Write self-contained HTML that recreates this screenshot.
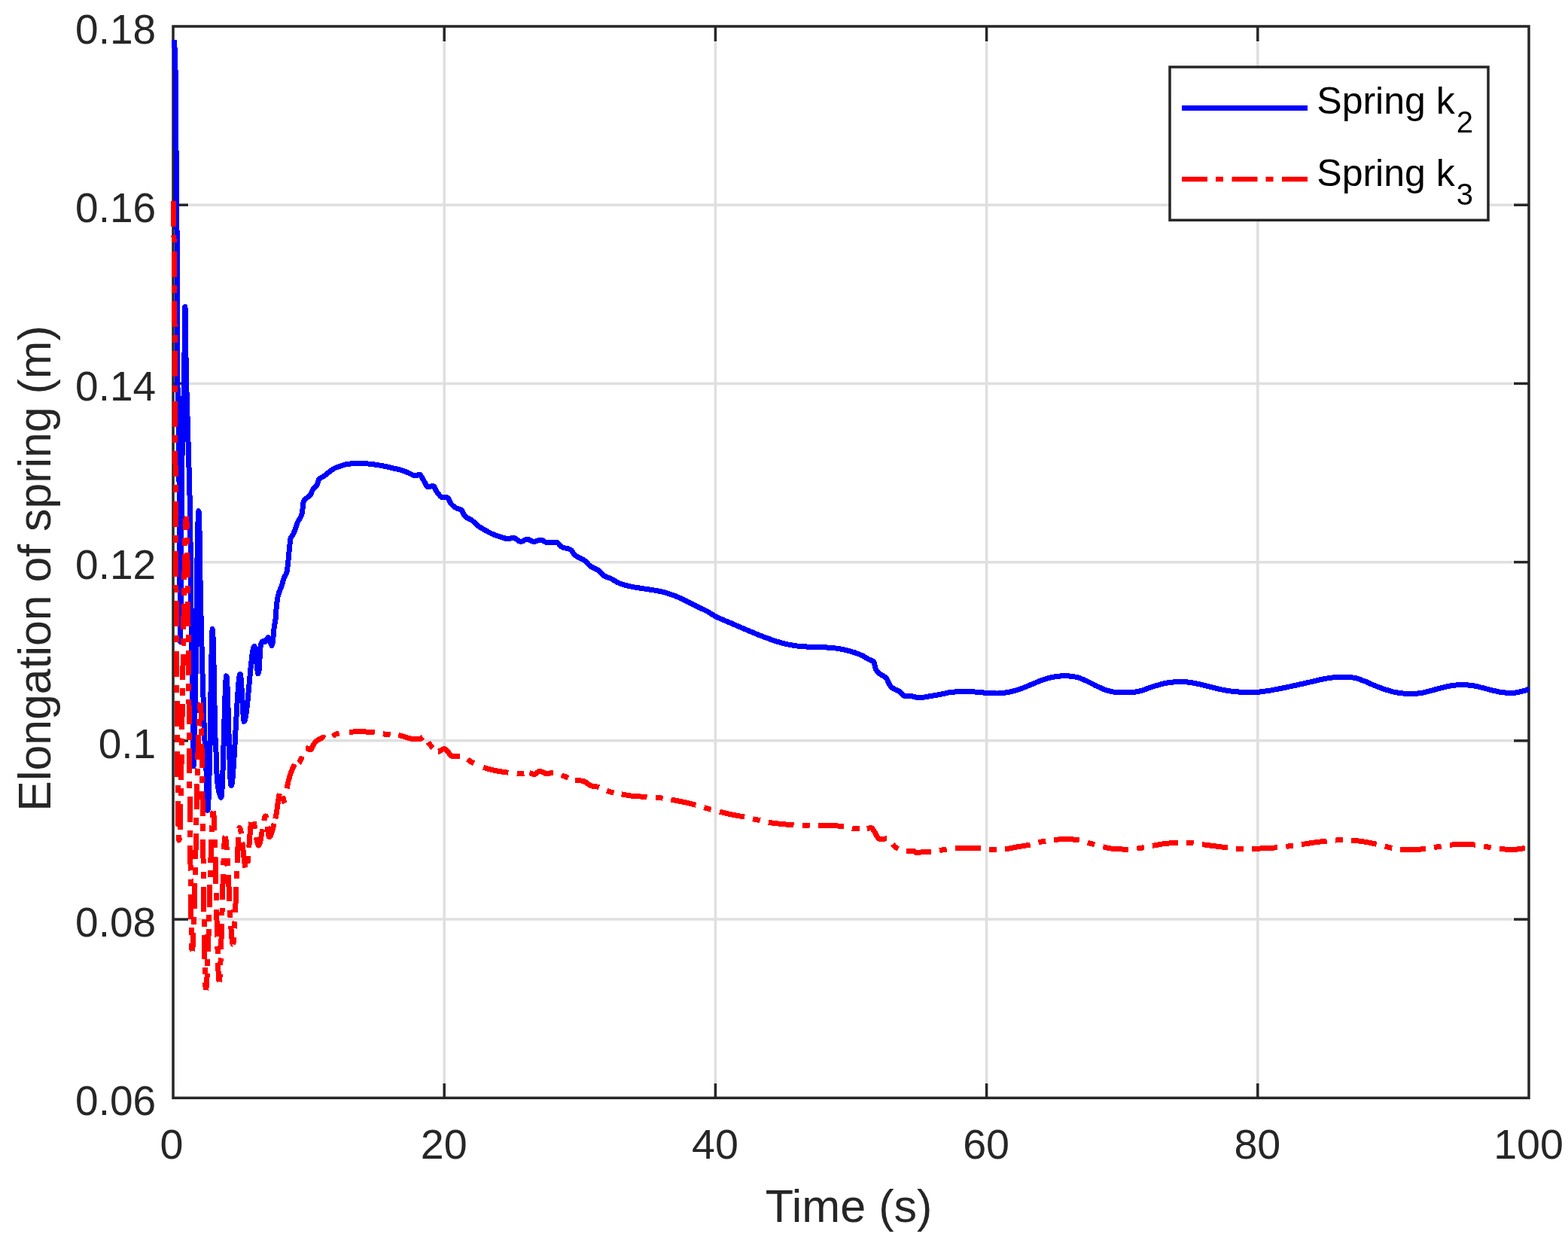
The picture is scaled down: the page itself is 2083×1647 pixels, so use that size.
<!DOCTYPE html>
<html lang="en"><head><meta charset="utf-8"><title>Elongation of spring</title>
<style>
html,body{margin:0;padding:0;background:#fff;}
body{width:2083px;height:1647px;overflow:hidden;}
svg{display:block;}
text{font-family:"Liberation Sans",sans-serif;}
.tk{font-size:55.6px;fill:#262626;}
.lb{font-size:61.1px;fill:#262626;}
.lg{font-size:50px;fill:#000;}
.sb{font-size:40px;fill:#000;}
</style></head><body>
<svg width="2083" height="1647" viewBox="0 0 2083 1647">
<rect x="0" y="0" width="2083" height="1647" fill="#ffffff"/>

<g stroke="#dfdfdf" stroke-width="3.5" fill="none">
<line x1="590.20" y1="55.40" x2="590.20" y2="1437.90"/>
<line x1="950.40" y1="55.40" x2="950.40" y2="1437.90"/>
<line x1="1310.60" y1="55.40" x2="1310.60" y2="1437.90"/>
<line x1="1670.80" y1="55.40" x2="1670.80" y2="1437.90"/>
<line x1="251.00" y1="1221.08" x2="2010.00" y2="1221.08"/>
<line x1="251.00" y1="983.87" x2="2010.00" y2="983.87"/>
<line x1="251.00" y1="746.65" x2="2010.00" y2="746.65"/>
<line x1="251.00" y1="509.43" x2="2010.00" y2="509.43"/>
<line x1="251.00" y1="272.22" x2="2010.00" y2="272.22"/>
</g>
<g stroke="#262626" stroke-width="3.5" fill="none" stroke-linecap="butt">
<rect x="230.0" y="35.0" width="1801.0" height="1423.3"/>
<line x1="590.20" y1="1458.30" x2="590.20" y2="1438.85"/>
<line x1="590.20" y1="35.00" x2="590.20" y2="55.00"/>
<line x1="950.40" y1="1458.30" x2="950.40" y2="1438.85"/>
<line x1="950.40" y1="35.00" x2="950.40" y2="55.00"/>
<line x1="1310.60" y1="1458.30" x2="1310.60" y2="1438.85"/>
<line x1="1310.60" y1="35.00" x2="1310.60" y2="55.00"/>
<line x1="1670.80" y1="1458.30" x2="1670.80" y2="1438.85"/>
<line x1="1670.80" y1="35.00" x2="1670.80" y2="55.00"/>
<line x1="230.00" y1="1221.08" x2="250.00" y2="1221.08"/>
<line x1="2031.00" y1="1221.08" x2="2011.00" y2="1221.08"/>
<line x1="230.00" y1="983.87" x2="250.00" y2="983.87"/>
<line x1="2031.00" y1="983.87" x2="2011.00" y2="983.87"/>
<line x1="230.00" y1="746.65" x2="250.00" y2="746.65"/>
<line x1="2031.00" y1="746.65" x2="2011.00" y2="746.65"/>
<line x1="230.00" y1="509.43" x2="250.00" y2="509.43"/>
<line x1="2031.00" y1="509.43" x2="2011.00" y2="509.43"/>
<line x1="230.00" y1="272.22" x2="250.00" y2="272.22"/>
<line x1="2031.00" y1="272.22" x2="2011.00" y2="272.22"/>
</g>
<path d="M231.00,53.00 L231.10,54.83 L231.20,56.56 L231.32,58.24 L231.48,59.90 L231.68,61.43 L231.92,63.01 L232.12,64.59 L232.28,66.31 L232.40,68.00 L232.48,69.58 L232.54,71.16 L232.60,73.05 L232.66,75.23 L232.70,76.84 L232.74,78.56 L232.78,80.38 L232.82,82.30 L232.86,84.32 L232.90,86.42 L232.94,88.60 L232.98,90.85 L233.02,93.22 L233.06,96.00 L233.08,97.54 L233.10,99.19 L233.12,100.93 L233.14,102.75 L233.16,104.65 L233.18,106.63 L233.20,108.68 L233.22,110.79 L233.24,112.95 L233.26,115.17 L233.28,117.44 L233.30,119.74 L233.32,122.07 L233.34,124.44 L233.36,126.82 L233.38,129.22 L233.40,131.63 L233.42,134.05 L233.44,136.46 L233.46,138.87 L233.48,141.26 L233.50,143.63 L233.52,145.98 L233.54,148.30 L233.56,150.57 L233.58,152.81 L233.60,155.00 L233.62,157.16 L233.64,159.32 L233.66,161.48 L233.68,163.64 L233.70,165.80 L233.72,167.95 L233.74,170.11 L233.76,172.27 L233.78,174.43 L233.80,176.58 L233.82,178.75 L233.84,180.91 L233.86,183.07 L233.88,185.24 L233.90,187.41 L233.92,189.58 L233.94,191.75 L233.96,193.93 L233.98,196.11 L234.00,198.29 L234.02,200.48 L234.04,202.67 L234.06,204.87 L234.08,207.07 L234.10,209.28 L234.12,211.49 L234.14,213.71 L234.16,215.94 L234.18,218.17 L234.20,220.41 L234.22,222.65 L234.24,224.90 L234.26,227.16 L234.28,229.43 L234.30,231.71 L234.32,233.99 L234.34,236.28 L234.36,238.58 L234.38,240.89 L234.40,243.21 L234.42,245.54 L234.44,247.88 L234.46,250.23 L234.48,252.59 L234.50,254.97 L234.52,257.35 L234.54,259.74 L234.56,262.15 L234.58,264.57 L234.60,267.00 L234.62,269.38 L234.64,271.67 L234.66,273.86 L234.68,275.97 L234.70,278.00 L234.72,279.97 L234.74,281.88 L234.76,283.74 L234.78,285.55 L234.80,287.34 L234.82,289.10 L234.84,290.84 L234.86,292.57 L234.88,294.31 L234.90,296.06 L234.92,297.82 L234.94,299.61 L234.96,301.43 L234.98,303.29 L235.00,305.21 L235.02,307.19 L235.04,309.23 L235.06,311.35 L235.08,313.56 L235.10,315.85 L235.12,318.25 L235.14,320.76 L235.16,323.39 L235.18,326.15 L235.20,329.04 L235.22,332.07 L235.24,335.26 L235.26,338.60 L235.28,342.12 L235.30,345.81 L235.32,349.69 L235.34,353.76 L235.36,358.03 L235.38,362.52 L235.40,367.22 L235.42,372.16 L235.44,377.32 L235.46,383.75 L235.48,396.63 L235.50,414.59 L235.52,435.15 L235.54,455.86 L235.56,474.21 L235.58,487.75 L235.60,494.00 L235.62,495.73 L235.64,497.36 L235.66,498.91 L235.70,501.76 L235.74,504.29 L235.78,506.54 L235.82,508.52 L235.86,510.27 L235.90,511.80 L235.96,513.76 L236.02,515.37 L236.10,517.13 L236.20,518.99 L236.30,520.82 L236.38,522.52 L236.44,524.07 L236.50,525.94 L236.56,528.22 L236.60,530.00 L236.64,531.95 L236.68,533.98 L236.72,536.11 L236.76,538.32 L236.80,540.61 L236.84,542.98 L236.88,545.42 L236.92,547.95 L236.96,550.54 L237.00,553.21 L237.04,555.94 L237.08,558.74 L237.12,561.60 L237.16,564.53 L237.20,567.51 L237.22,569.02 L237.24,570.54 L237.26,572.08 L237.28,573.63 L237.30,575.20 L237.32,576.78 L237.34,578.37 L237.36,579.97 L237.38,581.58 L237.40,583.20 L237.42,584.84 L237.44,586.48 L237.46,588.14 L237.48,589.81 L237.50,591.48 L237.52,593.17 L237.54,594.86 L237.56,596.57 L237.58,598.28 L237.60,600.00 L237.62,601.74 L237.64,603.52 L237.66,605.32 L237.68,607.16 L237.70,609.03 L237.72,610.93 L237.74,612.86 L237.76,614.81 L237.78,616.80 L237.80,618.81 L237.82,620.84 L237.84,622.90 L237.86,624.99 L237.88,627.10 L237.90,629.23 L237.92,631.39 L237.94,633.56 L237.96,635.76 L237.98,637.98 L238.00,640.21 L238.02,642.47 L238.04,644.74 L238.06,647.02 L238.08,649.33 L238.10,651.65 L238.12,653.98 L238.14,656.33 L238.16,658.69 L238.18,661.06 L238.20,663.44 L238.22,665.83 L238.24,668.24 L238.26,670.65 L238.28,673.07 L238.30,675.50 L238.32,677.93 L238.34,680.37 L238.36,682.81 L238.38,685.26 L238.40,687.71 L238.42,690.17 L238.44,692.63 L238.46,695.08 L238.48,697.54 L238.50,700.00 L238.52,702.52 L238.54,705.15 L238.56,707.90 L238.58,710.75 L238.60,713.70 L238.62,716.75 L238.64,719.88 L238.66,723.09 L238.68,726.38 L238.70,729.73 L238.72,733.15 L238.74,736.62 L238.76,740.15 L238.78,743.71 L238.80,747.32 L238.82,750.96 L238.84,754.62 L238.86,758.30 L238.88,762.00 L238.90,765.70 L238.92,769.41 L238.94,773.11 L238.96,776.80 L238.98,780.47 L239.00,784.12 L239.02,787.73 L239.04,791.32 L239.06,794.86 L239.08,798.35 L239.10,801.79 L239.12,805.17 L239.14,808.49 L239.16,811.73 L239.18,814.89 L239.20,817.97 L239.22,820.96 L239.24,823.85 L239.26,826.64 L239.28,829.32 L239.30,831.89 L239.32,834.33 L239.34,836.65 L239.36,838.83 L239.38,840.88 L239.40,842.77 L239.42,844.52 L239.44,846.11 L239.48,848.79 L239.52,850.76 L239.58,852.29 L239.72,850.27 L239.76,848.67 L239.80,846.65 L239.84,844.25 L239.88,841.47 L239.90,839.95 L239.92,838.35 L239.94,836.67 L239.96,834.90 L239.98,833.06 L240.00,831.14 L240.02,829.16 L240.04,827.10 L240.06,824.98 L240.08,822.79 L240.10,820.55 L240.12,818.24 L240.14,815.88 L240.16,813.46 L240.18,811.00 L240.20,808.49 L240.22,805.93 L240.24,803.33 L240.26,800.69 L240.28,798.01 L240.30,795.29 L240.32,792.55 L240.34,789.77 L240.36,786.97 L240.38,784.14 L240.40,781.29 L240.42,778.42 L240.44,775.53 L240.46,772.63 L240.48,769.72 L240.50,766.80 L240.52,763.88 L240.54,760.95 L240.56,758.01 L240.58,755.08 L240.60,752.16 L240.62,749.24 L240.64,746.33 L240.66,743.43 L240.68,740.55 L240.70,737.68 L240.72,734.84 L240.74,732.01 L240.76,729.22 L240.78,726.45 L240.80,723.70 L240.82,721.00 L240.84,718.32 L240.86,715.69 L240.88,713.10 L240.90,710.55 L240.92,708.04 L240.94,705.59 L240.96,703.18 L240.98,700.83 L241.00,698.54 L241.02,696.30 L241.04,694.13 L241.06,692.02 L241.08,689.97 L241.10,688.00 L241.12,686.06 L241.14,684.11 L241.16,682.15 L241.18,680.18 L241.20,678.21 L241.22,676.23 L241.24,674.25 L241.26,672.27 L241.28,670.29 L241.30,668.30 L241.32,666.32 L241.34,664.34 L241.36,662.36 L241.38,660.38 L241.40,658.41 L241.42,656.44 L241.44,654.48 L241.46,652.53 L241.48,650.58 L241.50,648.65 L241.52,646.72 L241.54,644.81 L241.56,642.91 L241.58,641.02 L241.60,639.15 L241.62,637.29 L241.64,635.45 L241.66,633.63 L241.68,631.83 L241.70,630.04 L241.72,628.28 L241.74,626.53 L241.76,624.81 L241.78,623.12 L241.80,621.45 L241.82,619.80 L241.84,618.18 L241.86,616.59 L241.88,615.02 L241.90,613.49 L241.92,611.99 L241.96,609.08 L242.00,606.30 L242.04,603.67 L242.08,601.18 L242.12,598.85 L242.16,596.58 L242.20,594.38 L242.24,592.24 L242.28,590.15 L242.32,588.12 L242.36,586.13 L242.40,584.20 L242.44,582.32 L242.48,580.49 L242.52,578.70 L242.56,576.95 L242.60,575.25 L242.64,573.58 L242.68,571.95 L242.72,570.36 L242.76,568.79 L242.80,567.26 L242.86,565.03 L242.92,562.85 L242.98,560.72 L243.04,558.64 L243.10,556.60 L243.16,554.60 L243.22,552.63 L243.28,550.67 L243.34,548.73 L243.40,546.80 L243.46,544.87 L243.52,542.94 L243.58,540.99 L243.64,539.03 L243.70,537.04 L243.76,535.03 L243.82,532.98 L243.88,530.88 L243.94,528.73 L244.00,526.53 L244.04,525.03 L244.08,523.50 L244.12,521.93 L244.16,520.33 L244.20,518.70 L244.24,517.03 L244.28,515.32 L244.32,513.57 L244.36,511.78 L244.40,509.94 L244.44,508.05 L244.48,506.12 L244.52,504.13 L244.56,502.09 L244.60,500.00 L244.64,497.75 L244.68,495.24 L244.72,492.51 L244.76,489.57 L244.78,488.03 L244.80,486.44 L244.82,484.81 L244.84,483.15 L244.86,481.44 L244.88,479.70 L244.90,477.93 L244.92,476.14 L244.94,474.31 L244.96,472.46 L244.98,470.59 L245.00,468.70 L245.02,466.80 L245.04,464.88 L245.06,462.95 L245.08,461.02 L245.10,459.07 L245.12,457.13 L245.14,455.18 L245.16,453.24 L245.18,451.30 L245.20,449.37 L245.22,447.44 L245.24,445.53 L245.26,443.64 L245.28,441.76 L245.30,439.90 L245.32,438.07 L245.34,436.26 L245.36,434.48 L245.38,432.73 L245.40,431.01 L245.42,429.33 L245.44,427.69 L245.46,426.09 L245.48,424.53 L245.50,423.01 L245.54,420.14 L245.58,417.47 L245.62,415.05 L245.66,412.88 L245.70,410.98 L245.74,409.39 L245.80,407.60 L246.08,409.31 L246.14,411.45 L246.18,413.17 L246.22,415.09 L246.26,417.20 L246.30,419.50 L246.34,421.97 L246.38,424.59 L246.42,427.36 L246.46,430.24 L246.50,433.24 L246.52,434.78 L246.54,436.34 L246.56,437.92 L246.58,439.52 L246.60,441.14 L246.62,442.78 L246.64,444.42 L246.66,446.08 L246.68,447.76 L246.70,449.43 L246.72,451.12 L246.74,452.81 L246.76,454.51 L246.78,456.20 L246.80,457.90 L246.82,459.59 L246.84,461.28 L246.86,462.97 L246.88,464.65 L246.90,466.32 L246.92,467.97 L246.94,469.62 L246.96,471.25 L246.98,472.87 L247.00,474.47 L247.02,476.04 L247.04,477.60 L247.06,479.14 L247.08,480.65 L247.12,483.58 L247.16,486.40 L247.20,489.09 L247.24,491.62 L247.28,493.99 L247.32,496.19 L247.36,498.20 L247.40,500.00 L247.44,501.66 L247.48,503.27 L247.52,504.82 L247.58,507.04 L247.64,509.17 L247.70,511.21 L247.76,513.17 L247.82,515.08 L247.88,516.95 L247.94,518.78 L248.00,520.60 L248.06,522.42 L248.12,524.26 L248.18,526.13 L248.24,528.03 L248.30,530.00 L248.36,531.99 L248.42,533.98 L248.48,535.96 L248.54,537.93 L248.60,539.89 L248.66,541.85 L248.72,543.80 L248.78,545.75 L248.84,547.69 L248.90,549.63 L248.96,551.57 L249.02,553.51 L249.08,555.45 L249.14,557.39 L249.20,559.34 L249.26,561.28 L249.32,563.23 L249.38,565.19 L249.44,567.15 L249.50,569.12 L249.56,571.09 L249.62,573.07 L249.68,575.07 L249.74,577.07 L249.80,579.08 L249.86,581.10 L249.92,583.14 L249.98,585.19 L250.04,587.26 L250.10,589.34 L250.16,591.43 L250.22,593.55 L250.28,595.68 L250.34,597.83 L250.40,600.00 L250.46,602.16 L250.52,604.30 L250.58,606.40 L250.64,608.49 L250.70,610.56 L250.76,612.61 L250.82,614.64 L250.88,616.68 L250.94,618.70 L251.00,620.73 L251.06,622.76 L251.12,624.80 L251.18,626.85 L251.24,628.91 L251.30,631.00 L251.36,633.10 L251.42,635.23 L251.48,637.40 L251.54,639.59 L251.60,641.82 L251.64,643.34 L251.68,644.87 L251.72,646.42 L251.76,647.99 L251.80,649.59 L251.84,651.21 L251.88,652.85 L251.92,654.52 L251.96,656.22 L252.00,657.95 L252.04,659.70 L252.08,661.49 L252.12,663.31 L252.16,665.16 L252.20,667.04 L252.24,668.96 L252.28,670.92 L252.32,672.91 L252.36,674.94 L252.40,677.01 L252.44,679.12 L252.48,681.28 L252.52,683.47 L252.56,685.71 L252.60,688.00 L252.64,690.41 L252.68,693.03 L252.72,695.84 L252.76,698.82 L252.78,700.37 L252.80,701.95 L252.82,703.58 L252.84,705.24 L252.86,706.93 L252.88,708.65 L252.90,710.40 L252.92,712.18 L252.94,713.99 L252.96,715.81 L252.98,717.66 L253.00,719.53 L253.02,721.42 L253.04,723.33 L253.06,725.25 L253.08,727.18 L253.10,729.12 L253.12,731.07 L253.14,733.03 L253.16,735.00 L253.18,736.97 L253.20,738.94 L253.22,740.91 L253.24,742.88 L253.26,744.84 L253.28,746.80 L253.30,748.76 L253.32,750.70 L253.34,752.64 L253.36,754.56 L253.38,756.47 L253.40,758.36 L253.42,760.23 L253.44,762.09 L253.46,763.92 L253.48,765.73 L253.50,767.52 L253.52,769.27 L253.54,771.00 L253.56,772.70 L253.58,774.37 L253.60,776.00 L253.62,777.61 L253.64,779.22 L253.66,780.82 L253.68,782.42 L253.70,784.02 L253.72,785.61 L253.74,787.19 L253.76,788.77 L253.78,790.35 L253.80,791.92 L253.82,793.49 L253.84,795.05 L253.86,796.61 L253.88,798.16 L253.90,799.72 L253.92,801.26 L253.94,802.81 L253.96,804.34 L253.98,805.88 L254.00,807.41 L254.02,808.94 L254.04,810.46 L254.06,811.98 L254.08,813.50 L254.10,815.01 L254.12,816.52 L254.14,818.03 L254.16,819.53 L254.20,822.52 L254.24,825.50 L254.28,828.47 L254.32,831.43 L254.36,834.37 L254.40,837.30 L254.44,840.22 L254.48,843.13 L254.52,846.03 L254.56,848.92 L254.60,851.80 L254.64,854.67 L254.68,857.53 L254.72,860.38 L254.76,863.23 L254.80,866.06 L254.84,868.89 L254.88,871.71 L254.92,874.53 L254.96,877.33 L255.00,880.14 L255.04,882.93 L255.08,885.72 L255.12,888.51 L255.16,891.29 L255.20,894.07 L255.24,896.84 L255.28,899.62 L255.32,902.40 L255.36,905.26 L255.40,908.22 L255.42,909.73 L255.44,911.26 L255.46,912.81 L255.48,914.38 L255.50,915.96 L255.52,917.57 L255.54,919.18 L255.56,920.82 L255.58,922.46 L255.60,924.12 L255.62,925.79 L255.64,927.47 L255.66,929.16 L255.68,930.86 L255.70,932.57 L255.72,934.29 L255.74,936.01 L255.76,937.74 L255.78,939.47 L255.80,941.21 L255.82,942.95 L255.84,944.69 L255.86,946.43 L255.88,948.17 L255.90,949.92 L255.92,951.66 L255.94,953.39 L255.96,955.13 L255.98,956.85 L256.00,958.58 L256.02,960.30 L256.04,962.01 L256.06,963.71 L256.08,965.40 L256.10,967.08 L256.12,968.76 L256.14,970.42 L256.16,972.07 L256.18,973.70 L256.20,975.32 L256.22,976.92 L256.24,978.51 L256.26,980.08 L256.28,981.64 L256.30,983.17 L256.32,984.68 L256.36,987.65 L256.40,990.52 L256.44,993.30 L256.48,995.97 L256.52,998.53 L256.56,1000.97 L256.60,1003.28 L256.64,1005.46 L256.68,1007.49 L256.72,1009.38 L256.76,1011.11 L256.80,1012.68 L256.86,1014.71 L256.92,1016.33 L257.02,1018.06 L257.32,1016.36 L257.40,1014.63 L257.46,1013.06 L257.52,1011.27 L257.58,1009.29 L257.64,1007.13 L257.68,1005.61 L257.72,1004.03 L257.76,1002.39 L257.80,1000.70 L257.84,998.98 L257.88,997.21 L257.92,995.42 L257.96,993.61 L258.00,991.78 L258.04,989.94 L258.08,988.10 L258.12,986.26 L258.16,984.42 L258.20,982.61 L258.24,980.82 L258.28,979.05 L258.32,977.33 L258.36,975.64 L258.40,974.00 L258.44,972.38 L258.48,970.74 L258.52,969.09 L258.56,967.43 L258.60,965.75 L258.64,964.05 L258.68,962.34 L258.72,960.62 L258.76,958.87 L258.80,957.12 L258.84,955.34 L258.88,953.55 L258.92,951.74 L258.96,949.92 L259.00,948.08 L259.04,946.22 L259.08,944.34 L259.12,942.45 L259.16,940.54 L259.20,938.61 L259.24,936.67 L259.28,934.70 L259.32,932.72 L259.36,930.72 L259.40,928.70 L259.44,926.66 L259.48,924.61 L259.52,922.53 L259.56,920.44 L259.60,918.32 L259.64,916.19 L259.68,914.03 L259.72,911.86 L259.76,909.67 L259.80,907.45 L259.84,905.22 L259.88,902.96 L259.92,900.69 L259.96,898.39 L260.00,896.07 L260.04,893.73 L260.08,891.37 L260.12,888.99 L260.16,886.59 L260.20,884.16 L260.24,881.71 L260.28,879.24 L260.32,876.74 L260.36,874.17 L260.40,871.51 L260.44,868.79 L260.48,865.99 L260.52,863.12 L260.56,860.20 L260.60,857.21 L260.62,855.70 L260.64,854.17 L260.66,852.64 L260.68,851.09 L260.70,849.53 L260.72,847.95 L260.74,846.37 L260.76,844.78 L260.78,843.18 L260.80,841.57 L260.82,839.95 L260.84,838.33 L260.86,836.69 L260.88,835.05 L260.90,833.41 L260.92,831.76 L260.94,830.10 L260.96,828.44 L260.98,826.77 L261.00,825.11 L261.02,823.43 L261.04,821.76 L261.06,820.08 L261.08,818.41 L261.10,816.73 L261.12,815.05 L261.14,813.37 L261.16,811.69 L261.18,810.02 L261.20,808.34 L261.22,806.67 L261.24,805.00 L261.26,803.33 L261.28,801.67 L261.30,800.01 L261.32,798.36 L261.34,796.71 L261.36,795.07 L261.38,793.43 L261.40,791.80 L261.42,790.18 L261.44,788.56 L261.46,786.96 L261.48,785.36 L261.50,783.77 L261.52,782.20 L261.54,780.63 L261.56,779.08 L261.58,777.53 L261.60,776.00 L261.62,774.46 L261.64,772.89 L261.66,771.28 L261.68,769.66 L261.70,768.01 L261.72,766.33 L261.74,764.64 L261.76,762.93 L261.78,761.21 L261.80,759.48 L261.82,757.73 L261.84,755.98 L261.86,754.22 L261.88,752.46 L261.90,750.69 L261.92,748.93 L261.94,747.18 L261.96,745.43 L261.98,743.69 L262.00,741.96 L262.02,740.24 L262.04,738.54 L262.06,736.85 L262.08,735.19 L262.10,733.55 L262.12,731.93 L262.14,730.34 L262.16,728.78 L262.18,727.25 L262.22,724.30 L262.26,721.50 L262.30,718.88 L262.34,716.44 L262.38,714.22 L262.42,712.23 L262.46,710.48 L262.52,708.33 L262.58,706.34 L262.64,704.39 L262.70,702.48 L262.76,700.61 L262.82,698.79 L262.88,697.01 L262.94,695.30 L263.00,693.64 L263.06,692.05 L263.12,690.52 L263.20,688.59 L263.28,686.81 L263.36,685.17 L263.46,683.34 L263.56,681.77 L263.68,680.27 L263.88,678.76 L264.22,680.28 L264.32,682.14 L264.40,684.01 L264.46,685.62 L264.52,687.39 L264.58,689.29 L264.64,691.31 L264.70,693.44 L264.76,695.65 L264.80,697.17 L264.84,698.71 L264.88,700.27 L264.92,701.85 L264.96,703.43 L265.00,705.03 L265.04,706.62 L265.08,708.21 L265.12,709.82 L265.16,711.61 L265.20,713.59 L265.24,715.75 L265.28,718.08 L265.32,720.55 L265.36,723.16 L265.40,725.88 L265.44,728.70 L265.48,731.61 L265.52,734.59 L265.54,736.10 L265.56,737.62 L265.58,739.15 L265.60,740.69 L265.62,742.24 L265.64,743.79 L265.66,745.34 L265.68,746.89 L265.70,748.44 L265.72,749.98 L265.74,751.52 L265.76,753.06 L265.78,754.58 L265.80,756.09 L265.84,759.06 L265.88,761.97 L265.92,764.79 L265.96,767.51 L266.00,770.11 L266.04,772.58 L266.08,774.90 L266.12,777.07 L266.16,779.19 L266.20,781.28 L266.24,783.32 L266.28,785.34 L266.32,787.32 L266.36,789.27 L266.40,791.19 L266.44,793.09 L266.48,794.95 L266.52,796.80 L266.56,798.61 L266.60,800.41 L266.64,802.18 L266.68,803.94 L266.72,805.68 L266.76,807.40 L266.80,809.10 L266.84,810.80 L266.88,812.48 L266.92,814.14 L266.96,815.80 L267.00,817.45 L267.04,819.10 L267.08,820.74 L267.12,822.37 L267.16,824.01 L267.20,825.64 L267.24,827.27 L267.28,828.91 L267.32,830.55 L267.36,832.19 L267.40,833.84 L267.44,835.50 L267.48,837.16 L267.52,838.84 L267.56,840.52 L267.60,842.19 L267.64,843.87 L267.68,845.54 L267.72,847.21 L267.76,848.88 L267.80,850.54 L267.84,852.20 L267.88,853.85 L267.92,855.50 L267.96,857.13 L268.00,858.76 L268.04,860.38 L268.08,861.99 L268.12,863.58 L268.16,865.17 L268.20,866.74 L268.24,868.29 L268.28,869.83 L268.32,871.36 L268.36,872.87 L268.42,875.09 L268.48,877.28 L268.54,879.42 L268.60,881.53 L268.66,883.61 L268.72,885.65 L268.78,887.67 L268.84,889.66 L268.90,891.62 L268.96,893.56 L269.02,895.49 L269.08,897.39 L269.14,899.28 L269.20,901.16 L269.26,903.03 L269.32,904.88 L269.38,906.73 L269.44,908.58 L269.50,910.42 L269.56,912.27 L269.62,914.11 L269.68,915.97 L269.74,917.82 L269.80,919.69 L269.86,921.57 L269.92,923.46 L269.98,925.36 L270.04,927.29 L270.10,929.26 L270.16,931.26 L270.22,933.30 L270.28,935.36 L270.34,937.43 L270.40,939.53 L270.46,941.63 L270.52,943.73 L270.58,945.84 L270.64,947.93 L270.70,950.02 L270.76,952.09 L270.82,954.13 L270.88,956.14 L270.94,958.12 L271.00,960.07 L271.06,961.96 L271.12,963.81 L271.18,965.60 L271.24,967.33 L271.30,969.00 L271.36,970.59 L271.42,972.11 L271.50,974.00 L271.58,975.76 L271.66,977.42 L271.74,978.99 L271.84,980.83 L271.94,982.56 L272.04,984.19 L272.14,985.73 L272.26,987.51 L272.38,989.22 L272.50,990.91 L272.62,992.59 L272.74,994.30 L272.86,996.06 L272.96,997.60 L273.06,999.21 L273.16,1000.92 L273.26,1002.74 L273.34,1004.29 L273.42,1005.93 L273.50,1007.67 L273.58,1009.52 L273.66,1011.56 L273.72,1013.33 L273.78,1015.28 L273.84,1017.38 L273.90,1019.61 L273.94,1021.17 L273.98,1022.76 L274.02,1024.38 L274.06,1026.03 L274.10,1027.70 L274.14,1029.37 L274.18,1031.06 L274.22,1032.74 L274.26,1034.41 L274.30,1036.06 L274.34,1037.68 L274.38,1039.28 L274.42,1040.83 L274.46,1042.34 L274.52,1044.50 L274.58,1046.51 L274.64,1048.35 L274.70,1050.00 L274.76,1051.56 L274.82,1053.15 L274.88,1054.76 L274.94,1056.38 L275.00,1058.00 L275.06,1059.61 L275.12,1061.20 L275.18,1062.76 L275.24,1064.29 L275.32,1066.25 L275.40,1068.10 L275.48,1069.83 L275.56,1071.40 L275.66,1073.12 L275.78,1074.76 L275.98,1076.28 L276.36,1074.68 L276.48,1073.17 L276.58,1071.60 L276.68,1069.77 L276.76,1068.12 L276.84,1066.33 L276.92,1064.41 L276.98,1062.89 L277.04,1061.31 L277.10,1059.67 L277.16,1057.97 L277.22,1056.22 L277.28,1054.43 L277.34,1052.60 L277.40,1050.74 L277.46,1048.85 L277.52,1046.93 L277.58,1044.98 L277.64,1043.03 L277.70,1041.06 L277.76,1039.08 L277.82,1037.11 L277.88,1035.13 L277.94,1033.17 L278.00,1031.21 L278.06,1029.28 L278.12,1027.36 L278.18,1025.39 L278.24,1023.35 L278.30,1021.23 L278.36,1019.04 L278.40,1017.53 L278.44,1016.00 L278.48,1014.42 L278.52,1012.82 L278.56,1011.17 L278.60,1009.50 L278.64,1007.78 L278.68,1006.03 L278.72,1004.24 L278.76,1002.42 L278.80,1000.56 L278.84,998.66 L278.88,996.72 L278.92,994.75 L278.96,992.73 L279.00,990.68 L279.04,988.59 L279.08,986.45 L279.12,984.28 L279.16,982.07 L279.20,979.81 L279.24,977.52 L279.28,975.18 L279.32,972.77 L279.36,970.12 L279.40,967.22 L279.42,965.69 L279.44,964.11 L279.46,962.49 L279.48,960.84 L279.50,959.15 L279.52,957.44 L279.54,955.70 L279.56,953.95 L279.58,952.18 L279.60,950.41 L279.62,948.63 L279.64,946.85 L279.66,945.08 L279.68,943.31 L279.70,941.57 L279.72,939.84 L279.74,938.14 L279.76,936.47 L279.78,934.83 L279.80,933.23 L279.82,931.68 L279.84,930.18 L279.88,927.33 L279.92,924.71 L279.96,922.14 L280.00,919.61 L280.04,917.11 L280.08,914.64 L280.12,912.22 L280.16,909.83 L280.20,907.47 L280.24,905.16 L280.28,902.90 L280.32,900.67 L280.36,898.50 L280.40,896.37 L280.44,894.28 L280.48,892.25 L280.52,890.27 L280.56,888.35 L280.60,886.48 L280.64,884.66 L280.68,882.90 L280.72,881.21 L280.76,879.57 L280.80,878.00 L280.84,876.45 L280.88,874.88 L280.92,873.30 L280.96,871.70 L281.00,870.10 L281.04,868.49 L281.08,866.88 L281.12,865.28 L281.16,863.68 L281.20,862.08 L281.24,860.50 L281.28,858.94 L281.32,857.39 L281.36,855.87 L281.42,853.63 L281.48,851.46 L281.54,849.37 L281.60,847.37 L281.66,845.47 L281.72,843.68 L281.78,842.02 L281.84,840.50 L281.92,838.69 L282.00,837.18 L282.12,835.50 L282.62,837.12 L282.72,838.90 L282.80,840.60 L282.88,842.53 L282.94,844.11 L283.00,845.79 L283.06,847.58 L283.12,849.46 L283.18,851.41 L283.24,853.44 L283.30,855.53 L283.36,857.68 L283.42,859.87 L283.48,862.10 L283.52,863.60 L283.56,865.11 L283.60,866.63 L283.64,868.15 L283.68,869.68 L283.72,871.21 L283.76,872.73 L283.80,874.25 L283.84,875.76 L283.90,878.00 L283.94,879.55 L283.98,881.21 L284.02,882.98 L284.06,884.85 L284.10,886.80 L284.14,888.84 L284.18,890.95 L284.22,893.12 L284.26,895.34 L284.30,897.61 L284.34,899.91 L284.38,902.24 L284.42,904.58 L284.46,906.94 L284.50,909.29 L284.54,911.63 L284.58,913.96 L284.62,916.25 L284.66,918.51 L284.70,920.72 L284.74,922.88 L284.78,924.98 L284.82,927.02 L284.86,929.08 L284.90,931.18 L284.94,933.30 L284.98,935.45 L285.02,937.61 L285.06,939.78 L285.10,941.95 L285.14,944.12 L285.18,946.28 L285.22,948.43 L285.26,950.55 L285.30,952.65 L285.34,954.71 L285.38,956.73 L285.42,958.71 L285.46,960.63 L285.50,962.50 L285.54,964.30 L285.58,966.03 L285.62,967.68 L285.66,969.25 L285.72,971.43 L285.78,973.40 L285.84,975.15 L285.90,976.78 L285.96,978.30 L286.04,980.18 L286.12,981.92 L286.20,983.54 L286.28,985.07 L286.38,986.90 L286.48,988.67 L286.58,990.44 L286.68,992.26 L286.76,993.79 L286.84,995.40 L286.92,997.13 L287.00,999.00 L287.06,1000.54 L287.12,1002.22 L287.18,1004.01 L287.24,1005.90 L287.30,1007.86 L287.36,1009.86 L287.42,1011.89 L287.48,1013.92 L287.54,1015.92 L287.60,1017.88 L287.66,1019.76 L287.72,1021.55 L287.78,1023.23 L287.84,1024.77 L287.92,1026.56 L288.02,1028.31 L288.12,1029.83 L288.24,1031.57 L288.36,1033.21 L288.48,1034.77 L288.62,1036.47 L288.76,1038.06 L288.92,1039.73 L289.08,1041.26 L289.26,1042.81 L289.46,1044.34 L289.70,1045.90 L290.00,1047.50 L290.32,1049.07 L290.64,1050.57 L290.98,1052.09 L291.34,1053.59 L291.74,1055.11 L292.20,1056.61 L292.80,1058.12 L293.80,1059.29 L294.30,1057.73 L294.48,1056.06 L294.62,1054.38 L294.74,1052.69 L294.84,1051.10 L294.94,1049.37 L295.04,1047.50 L295.12,1045.91 L295.20,1044.22 L295.28,1042.46 L295.36,1040.62 L295.44,1038.71 L295.52,1036.72 L295.58,1035.18 L295.64,1033.61 L295.70,1032.00 L295.76,1030.35 L295.82,1028.67 L295.88,1026.96 L295.94,1025.21 L296.00,1023.44 L296.06,1021.64 L296.12,1019.81 L296.18,1017.95 L296.24,1016.07 L296.30,1014.16 L296.36,1012.24 L296.42,1010.29 L296.48,1008.32 L296.54,1006.33 L296.60,1004.33 L296.66,1002.31 L296.72,1000.28 L296.78,998.23 L296.84,996.17 L296.90,994.10 L296.96,992.02 L297.02,989.93 L297.08,987.83 L297.14,985.73 L297.20,983.63 L297.26,981.52 L297.32,979.41 L297.38,977.29 L297.44,975.18 L297.50,973.07 L297.56,970.97 L297.62,968.87 L297.68,966.77 L297.74,964.68 L297.80,962.60 L297.86,960.53 L297.92,958.47 L297.98,956.42 L298.04,954.39 L298.10,952.37 L298.16,950.37 L298.22,948.38 L298.28,946.41 L298.34,944.46 L298.40,942.54 L298.46,940.63 L298.52,938.75 L298.58,936.89 L298.64,935.06 L298.70,933.26 L298.76,931.49 L298.82,929.74 L298.88,928.03 L298.94,926.35 L299.00,924.70 L299.06,923.09 L299.12,921.52 L299.18,919.98 L299.26,917.99 L299.34,916.08 L299.42,914.24 L299.50,912.48 L299.58,910.79 L299.66,909.20 L299.74,907.69 L299.84,905.93 L299.94,904.32 L300.06,902.59 L300.18,901.09 L300.34,899.46 L300.58,897.88 L301.24,899.52 L301.38,901.02 L301.50,902.60 L301.60,904.12 L301.70,905.80 L301.80,907.65 L301.88,909.24 L301.96,910.92 L302.04,912.70 L302.12,914.56 L302.20,916.51 L302.26,918.03 L302.32,919.59 L302.38,921.19 L302.44,922.83 L302.50,924.51 L302.56,926.23 L302.62,927.99 L302.68,929.77 L302.74,931.59 L302.80,933.45 L302.86,935.33 L302.92,937.23 L302.98,939.17 L303.04,941.13 L303.10,943.11 L303.16,945.11 L303.22,947.14 L303.28,949.18 L303.34,951.24 L303.40,953.31 L303.46,955.40 L303.52,957.49 L303.58,959.60 L303.64,961.72 L303.70,963.84 L303.76,965.97 L303.82,968.10 L303.88,970.24 L303.94,972.37 L304.00,974.51 L304.06,976.64 L304.12,978.77 L304.18,980.89 L304.24,983.00 L304.30,985.11 L304.36,987.20 L304.42,989.28 L304.48,991.35 L304.54,993.40 L304.60,995.44 L304.66,997.46 L304.72,999.45 L304.78,1001.43 L304.84,1003.38 L304.90,1005.30 L304.96,1007.20 L305.02,1009.08 L305.08,1010.92 L305.14,1012.73 L305.20,1014.50 L305.26,1016.25 L305.32,1017.95 L305.38,1019.62 L305.44,1021.25 L305.50,1022.84 L305.56,1024.38 L305.62,1025.88 L305.70,1027.81 L305.78,1029.65 L305.86,1031.41 L305.94,1033.07 L306.02,1034.64 L306.12,1036.45 L306.22,1038.10 L306.34,1039.85 L306.48,1041.57 L306.64,1043.07 L307.64,1043.29 L307.98,1041.71 L308.24,1040.10 L308.46,1038.48 L308.66,1036.81 L308.84,1035.15 L309.00,1033.56 L309.16,1031.87 L309.30,1030.30 L309.44,1028.66 L309.58,1026.95 L309.70,1025.43 L309.82,1023.86 L309.94,1022.24 L310.06,1020.57 L310.18,1018.86 L310.30,1017.11 L310.42,1015.32 L310.52,1013.80 L310.62,1012.26 L310.72,1010.68 L310.82,1009.09 L310.92,1007.47 L311.02,1005.83 L311.12,1004.17 L311.22,1002.49 L311.32,1000.79 L311.42,999.08 L311.52,997.34 L311.62,995.60 L311.72,993.83 L311.82,992.06 L311.92,990.27 L312.02,988.47 L312.12,986.66 L312.22,984.84 L312.32,983.01 L312.42,981.17 L312.52,979.33 L312.62,977.48 L312.72,975.63 L312.82,973.77 L312.92,971.92 L313.02,970.06 L313.12,968.20 L313.22,966.34 L313.32,964.48 L313.42,962.63 L313.52,960.78 L313.62,958.93 L313.72,957.09 L313.82,955.26 L313.92,953.43 L314.02,951.62 L314.12,949.81 L314.22,948.02 L314.32,946.23 L314.42,944.46 L314.52,942.70 L314.62,940.96 L314.72,939.23 L314.82,937.53 L314.92,935.83 L315.02,934.16 L315.12,932.51 L315.22,930.88 L315.32,929.27 L315.42,927.68 L315.52,926.12 L315.62,924.59 L315.72,923.07 L315.84,921.30 L315.96,919.56 L316.08,917.87 L316.20,916.22 L316.32,914.62 L316.44,913.06 L316.56,911.55 L316.70,909.86 L316.84,908.24 L316.98,906.70 L317.14,905.03 L317.30,903.47 L317.48,901.85 L317.68,900.21 L317.90,898.63 L318.16,897.08 L318.50,895.57 L319.50,895.58 L319.74,897.17 L319.92,898.77 L320.08,900.46 L320.22,902.13 L320.34,903.68 L320.46,905.34 L320.58,907.10 L320.68,908.64 L320.78,910.22 L320.88,911.86 L320.98,913.55 L321.08,915.27 L321.18,917.03 L321.28,918.81 L321.38,920.62 L321.48,922.45 L321.58,924.29 L321.68,926.13 L321.78,927.98 L321.88,929.82 L321.98,931.65 L322.08,933.47 L322.18,935.26 L322.28,937.03 L322.38,938.77 L322.48,940.47 L322.58,942.13 L322.68,943.74 L322.78,945.29 L322.90,947.08 L323.02,948.78 L323.14,950.37 L323.28,952.08 L323.42,953.62 L323.58,955.16 L323.78,956.71 L324.10,958.22 L325.10,957.49 L325.58,955.97 L325.94,954.43 L326.24,952.90 L326.52,951.28 L326.76,949.75 L326.98,948.24 L327.20,946.64 L327.40,945.10 L327.60,943.50 L327.78,941.99 L327.96,940.44 L328.14,938.83 L328.32,937.18 L328.48,935.68 L328.64,934.14 L328.80,932.57 L328.96,930.98 L329.12,929.36 L329.28,927.72 L329.44,926.05 L329.60,924.36 L329.76,922.66 L329.90,921.15 L330.04,919.64 L330.18,918.11 L330.32,916.58 L330.46,915.04 L330.60,913.49 L330.74,911.94 L330.88,910.39 L331.02,908.83 L331.16,907.28 L331.30,905.72 L331.44,904.17 L331.58,902.62 L331.72,901.08 L331.86,899.54 L332.00,898.01 L332.14,896.49 L332.28,894.98 L332.44,893.27 L332.60,891.58 L332.76,889.91 L332.92,888.25 L333.08,886.62 L333.24,885.02 L333.40,883.44 L333.56,881.90 L333.72,880.38 L333.90,878.72 L334.08,877.09 L334.26,875.52 L334.44,874.00 L334.64,872.37 L334.84,870.81 L335.06,869.19 L335.28,867.65 L335.52,866.09 L335.78,864.55 L336.08,862.96 L336.42,861.42 L336.86,859.89 L337.86,858.51 L338.48,860.05 L338.78,861.60 L339.02,863.14 L339.24,864.76 L339.44,866.39 L339.62,867.95 L339.80,869.59 L339.96,871.10 L340.12,872.66 L340.28,874.24 L340.44,875.84 L340.60,877.45 L340.76,879.06 L340.92,880.65 L341.08,882.22 L341.24,883.75 L341.42,885.41 L341.60,887.00 L341.80,888.66 L342.00,890.19 L342.22,891.69 L342.50,893.29 L342.88,894.79 L343.78,893.18 L343.94,891.60 L344.08,889.93 L344.20,888.33 L344.32,886.58 L344.42,885.03 L344.52,883.41 L344.62,881.74 L344.72,880.02 L344.82,878.27 L344.92,876.49 L345.02,874.72 L345.12,872.95 L345.22,871.19 L345.32,869.47 L345.42,867.80 L345.52,866.18 L345.62,864.63 L345.74,862.88 L345.86,861.27 L346.00,859.61 L346.16,858.02 L346.38,856.48 L346.88,854.95 L347.52,853.42 L348.46,851.91 L349.46,851.52 L350.46,851.86 L351.46,852.32 L352.46,852.47 L353.46,851.38 L354.24,849.84 L354.96,848.33 L355.92,846.81 L356.92,846.74 L357.72,848.25 L358.24,849.76 L358.70,851.27 L359.16,852.83 L359.64,854.39 L360.18,855.90 L361.18,857.38 L361.86,855.82 L362.10,854.32 L362.30,852.77 L362.48,851.19 L362.64,849.66 L362.80,848.04 L362.96,846.35 L363.10,844.84 L363.24,843.30 L363.38,841.76 L363.52,840.24 L363.68,838.53 L363.84,836.88 L364.00,835.31 L364.18,833.68 L364.38,832.05 L364.62,830.44 L364.94,828.94 L365.36,827.39 L365.66,825.81 L365.86,824.13 L366.02,822.42 L366.16,820.72 L366.28,819.15 L366.40,817.51 L366.52,815.83 L366.64,814.14 L366.76,812.46 L366.88,810.84 L367.00,809.30 L367.14,807.64 L367.30,806.00 L367.48,804.33 L367.66,802.69 L367.84,801.09 L368.02,799.55 L368.22,797.93 L368.44,796.29 L368.68,794.71 L368.96,793.19 L369.32,791.61 L369.72,790.05 L370.16,788.52 L370.66,786.98 L371.22,785.46 L371.84,783.94 L372.50,782.41 L373.14,780.91 L373.74,779.40 L374.28,777.88 L374.76,776.35 L375.20,774.79 L375.62,773.22 L376.02,771.72 L376.44,770.19 L376.90,768.64 L377.44,767.10 L378.16,765.60 L379.14,764.07 L380.04,762.54 L380.68,761.00 L381.14,759.44 L381.42,757.89 L381.64,756.34 L381.84,754.74 L382.02,753.19 L382.20,751.57 L382.38,749.91 L382.56,748.26 L382.74,746.64 L382.90,745.13 L383.06,743.51 L383.22,741.81 L383.36,740.27 L383.50,738.69 L383.64,737.09 L383.78,735.50 L383.92,733.91 L384.06,732.34 L384.20,730.81 L384.36,729.14 L384.52,727.55 L384.68,726.05 L384.84,724.49 L385.00,722.88 L385.16,721.30 L385.32,719.78 L385.50,718.21 L385.72,716.62 L386.08,715.07 L386.72,713.55 L387.72,712.04 L388.72,710.88 L389.66,709.38 L390.34,707.87 L390.94,706.34 L391.50,704.79 L392.02,703.28 L392.54,701.72 L393.04,700.21 L393.56,698.66 L394.08,697.15 L394.64,695.60 L395.24,694.08 L395.94,692.54 L396.78,691.04 L397.76,689.51 L398.72,687.98 L399.52,686.47 L400.18,684.94 L400.72,683.43 L401.18,681.89 L401.46,680.30 L401.66,678.79 L401.84,677.25 L402.02,675.60 L402.18,674.09 L402.36,672.41 L402.54,670.80 L402.74,669.18 L402.98,667.58 L403.42,666.05 L404.32,664.53 L405.32,663.41 L406.32,662.54 L407.32,661.60 L408.32,660.77 L409.32,660.03 L410.32,659.27 L411.32,658.35 L412.32,657.11 L413.14,655.58 L413.82,654.07 L414.48,652.53 L415.16,651.02 L415.96,649.50 L416.96,648.22 L417.96,647.30 L418.96,646.48 L419.96,645.51 L420.96,644.07 L421.60,642.53 L422.14,640.97 L422.66,639.42 L423.22,637.89 L423.98,636.36 L424.98,635.44 L425.98,634.81 L426.98,634.33 L427.98,633.87 L428.98,633.34 L429.98,632.67 L430.98,631.93 L431.98,631.15 L432.98,630.35 L433.98,629.54 L434.98,628.75 L435.98,627.99 L436.98,627.21 L437.98,626.40 L438.98,625.60 L439.98,624.81 L440.98,624.06 L441.98,623.36 L442.98,622.74 L443.98,622.21 L444.98,621.73 L445.98,621.28 L446.98,620.87 L447.98,620.49 L448.98,620.13 L449.98,619.78 L450.98,619.44 L451.98,619.10 L452.98,618.75 L453.98,618.41 L454.98,618.07 L455.98,617.75 L456.98,617.45 L457.98,617.18 L458.98,616.94 L459.98,616.74 L460.98,616.59 L461.98,616.46 L462.98,616.33 L463.98,616.20 L464.98,616.08 L465.98,615.97 L466.98,615.87 L467.98,615.79 L468.98,615.72 L469.98,615.66 L470.98,615.62 L471.98,615.60 L472.98,615.60 L473.98,615.60 L474.98,615.60 L475.98,615.60 L476.98,615.60 L477.98,615.60 L478.98,615.60 L479.98,615.60 L480.98,615.60 L481.98,615.60 L482.98,615.60 L483.98,615.63 L484.98,615.67 L485.98,615.74 L486.98,615.82 L487.98,615.91 L488.98,616.02 L489.98,616.13 L490.98,616.25 L491.98,616.37 L492.98,616.48 L493.98,616.60 L494.98,616.71 L495.98,616.83 L496.98,616.96 L497.98,617.10 L498.98,617.24 L499.98,617.38 L500.98,617.54 L501.98,617.70 L502.98,617.86 L503.98,618.02 L504.98,618.19 L505.98,618.37 L506.98,618.54 L507.98,618.72 L508.98,618.91 L509.98,619.10 L510.98,619.30 L511.98,619.50 L512.98,619.72 L513.98,619.93 L514.98,620.16 L515.98,620.39 L516.98,620.62 L517.98,620.85 L518.98,621.09 L519.98,621.33 L520.98,621.57 L521.98,621.81 L522.98,622.04 L523.98,622.28 L524.98,622.51 L525.98,622.74 L526.98,622.97 L527.98,623.20 L528.98,623.44 L529.98,623.68 L530.98,623.93 L531.98,624.19 L532.98,624.46 L533.98,624.74 L534.98,625.04 L535.98,625.36 L536.98,625.71 L537.98,626.09 L538.98,626.50 L539.98,626.94 L540.98,627.38 L541.98,627.83 L542.98,628.28 L543.98,628.72 L544.98,629.17 L545.98,629.69 L546.98,630.26 L547.98,630.82 L548.98,631.32 L549.98,631.72 L550.98,631.96 L551.98,631.98 L552.98,631.76 L553.98,631.38 L554.98,630.94 L555.98,630.56 L556.98,630.33 L557.98,630.48 L558.98,631.51 L559.92,633.03 L560.72,634.54 L561.52,636.05 L562.44,637.56 L563.36,639.06 L564.18,640.58 L564.98,642.12 L565.80,643.64 L566.74,645.17 L567.74,646.35 L568.74,646.89 L569.74,646.83 L570.74,646.61 L571.74,646.29 L572.74,645.95 L573.74,645.64 L574.74,645.44 L575.74,645.48 L576.74,646.49 L577.60,648.01 L578.32,649.51 L579.04,651.05 L579.84,652.57 L580.84,653.96 L581.84,655.28 L582.84,656.60 L583.84,657.86 L584.84,658.96 L585.84,659.84 L586.84,660.41 L587.84,660.62 L588.84,660.68 L589.84,660.72 L590.84,660.74 L591.84,660.77 L592.84,660.81 L593.84,660.88 L594.84,661.32 L595.84,662.78 L596.60,664.30 L597.30,665.82 L598.02,667.33 L598.90,668.83 L599.90,669.95 L600.90,670.94 L601.90,671.86 L602.90,672.69 L603.90,673.44 L604.90,674.12 L605.90,674.73 L606.90,675.25 L607.90,675.65 L608.90,675.97 L609.90,676.27 L610.90,676.61 L611.90,677.03 L612.90,677.60 L613.90,678.73 L614.76,680.26 L615.50,681.76 L616.24,683.27 L617.08,684.77 L618.08,685.96 L619.08,686.74 L620.08,687.40 L621.08,687.95 L622.08,688.45 L623.08,688.91 L624.08,689.39 L625.08,689.91 L626.08,690.51 L627.08,691.23 L628.08,692.07 L629.08,692.99 L630.08,693.95 L631.08,694.94 L632.08,695.91 L633.08,696.84 L634.08,697.68 L635.08,698.42 L636.08,699.12 L637.08,699.79 L638.08,700.44 L639.08,701.06 L640.08,701.66 L641.08,702.25 L642.08,702.82 L643.08,703.39 L644.08,703.96 L645.08,704.53 L646.08,705.09 L647.08,705.65 L648.08,706.20 L649.08,706.73 L650.08,707.26 L651.08,707.77 L652.08,708.26 L653.08,708.72 L654.08,709.16 L655.08,709.58 L656.08,709.99 L657.08,710.38 L658.08,710.77 L659.08,711.14 L660.08,711.50 L661.08,711.85 L662.08,712.20 L663.08,712.53 L664.08,712.86 L665.08,713.18 L666.08,713.49 L667.08,713.79 L668.08,714.09 L669.08,714.38 L670.08,714.71 L671.08,715.06 L672.08,715.38 L673.08,715.63 L674.08,715.78 L675.08,715.78 L676.08,715.64 L677.08,715.39 L678.08,715.09 L679.08,714.78 L680.08,714.52 L681.08,714.34 L682.08,714.31 L683.08,714.53 L684.08,714.97 L685.08,715.59 L686.08,716.30 L687.08,717.06 L688.08,717.81 L689.08,718.47 L690.08,719.00 L691.08,719.32 L692.08,719.39 L693.08,719.21 L694.08,718.86 L695.08,718.38 L696.08,717.84 L697.08,717.29 L698.08,716.81 L699.08,716.43 L700.08,716.22 L701.08,716.24 L702.08,716.48 L703.08,716.89 L704.08,717.40 L705.08,717.96 L706.08,718.49 L707.08,718.95 L708.08,719.28 L709.08,719.40 L710.08,719.33 L711.08,719.15 L712.08,718.88 L713.08,718.55 L714.08,718.20 L715.08,717.86 L716.08,717.56 L717.08,717.34 L718.08,717.21 L719.08,717.25 L720.08,717.53 L721.08,718.00 L722.08,718.58 L723.08,719.18 L724.08,719.73 L725.08,720.16 L726.08,720.38 L727.08,720.40 L728.08,720.40 L729.08,720.40 L730.08,720.40 L731.08,720.40 L732.08,720.40 L733.08,720.40 L734.08,720.40 L735.08,720.40 L736.08,720.40 L737.08,720.40 L738.08,720.40 L739.08,720.40 L740.08,720.53 L741.08,721.11 L742.08,722.04 L743.08,723.17 L744.08,724.35 L745.08,725.44 L746.08,726.29 L747.08,726.82 L748.08,727.21 L749.08,727.53 L750.08,727.80 L751.08,728.04 L752.08,728.26 L753.08,728.48 L754.08,728.71 L755.08,728.99 L756.08,729.31 L757.08,729.71 L758.08,730.19 L759.08,731.00 L760.08,732.24 L761.08,733.72 L762.08,735.23 L763.08,736.57 L764.08,737.54 L765.08,738.29 L766.08,738.94 L767.08,739.52 L768.08,740.05 L769.08,740.53 L770.08,741.00 L771.08,741.45 L772.08,741.90 L773.08,742.38 L774.08,742.89 L775.08,743.46 L776.08,744.09 L777.08,744.81 L778.08,745.70 L779.08,746.73 L780.08,747.84 L781.08,748.97 L782.08,750.06 L783.08,751.04 L784.08,751.86 L785.08,752.54 L786.08,753.15 L787.08,753.69 L788.08,754.19 L789.08,754.66 L790.08,755.11 L791.08,755.56 L792.08,756.02 L793.08,756.51 L794.08,757.05 L795.08,757.64 L796.08,758.31 L797.08,759.07 L798.08,760.13 L799.08,761.46 L800.08,762.79 L801.08,763.83 L802.08,764.51 L803.08,765.09 L804.08,765.59 L805.08,766.04 L806.08,766.45 L807.08,766.83 L808.08,767.19 L809.08,767.55 L810.08,767.92 L811.08,768.32 L812.08,768.75 L813.08,769.24 L814.08,769.80 L815.08,770.40 L816.08,771.03 L817.08,771.66 L818.08,772.29 L819.08,772.89 L820.08,773.44 L821.08,773.92 L822.08,774.33 L823.08,774.72 L824.08,775.09 L825.08,775.45 L826.08,775.80 L827.08,776.13 L828.08,776.45 L829.08,776.75 L830.08,777.05 L831.08,777.33 L832.08,777.61 L833.08,777.87 L834.08,778.12 L835.08,778.37 L836.08,778.60 L837.08,778.83 L838.08,779.05 L839.08,779.26 L840.08,779.46 L841.08,779.65 L842.08,779.83 L843.08,780.01 L844.08,780.18 L845.08,780.34 L846.08,780.50 L847.08,780.65 L848.08,780.80 L849.08,780.95 L850.08,781.10 L851.08,781.24 L852.08,781.39 L853.08,781.54 L854.08,781.69 L855.08,781.85 L856.08,782.01 L857.08,782.17 L858.08,782.33 L859.08,782.49 L860.08,782.64 L861.08,782.79 L862.08,782.94 L863.08,783.09 L864.08,783.24 L865.08,783.39 L866.08,783.54 L867.08,783.69 L868.08,783.85 L869.08,784.00 L870.08,784.17 L871.08,784.33 L872.08,784.51 L873.08,784.68 L874.08,784.87 L875.08,785.06 L876.08,785.26 L877.08,785.47 L878.08,785.68 L879.08,785.91 L880.08,786.15 L881.08,786.41 L882.08,786.67 L883.08,786.95 L884.08,787.24 L885.08,787.53 L886.08,787.84 L887.08,788.15 L888.08,788.48 L889.08,788.81 L890.08,789.14 L891.08,789.49 L892.08,789.84 L893.08,790.19 L894.08,790.55 L895.08,790.91 L896.08,791.28 L897.08,791.66 L898.08,792.05 L899.08,792.45 L900.08,792.87 L901.08,793.30 L902.08,793.74 L903.08,794.20 L904.08,794.66 L905.08,795.13 L906.08,795.60 L907.08,796.08 L908.08,796.57 L909.08,797.06 L910.08,797.54 L911.08,798.03 L912.08,798.52 L913.08,799.00 L914.08,799.48 L915.08,799.97 L916.08,800.46 L917.08,800.96 L918.08,801.46 L919.08,801.97 L920.08,802.48 L921.08,802.99 L922.08,803.51 L923.08,804.02 L924.08,804.53 L925.08,805.04 L926.08,805.54 L927.08,806.04 L928.08,806.54 L929.08,807.03 L930.08,807.50 L931.08,807.97 L932.08,808.44 L933.08,808.90 L934.08,809.37 L935.08,809.84 L936.08,810.31 L937.08,810.80 L938.08,811.30 L939.08,811.81 L940.08,812.34 L941.08,812.91 L942.08,813.50 L943.08,814.13 L944.08,814.77 L945.08,815.41 L946.08,816.06 L947.08,816.69 L948.08,817.30 L949.08,817.89 L950.08,818.44 L951.08,818.95 L952.08,819.46 L953.08,819.95 L954.08,820.42 L955.08,820.89 L956.08,821.35 L957.08,821.80 L958.08,822.25 L959.08,822.68 L960.08,823.11 L961.08,823.54 L962.08,823.96 L963.08,824.37 L964.08,824.79 L965.08,825.20 L966.08,825.61 L967.08,826.02 L968.08,826.44 L969.08,826.85 L970.08,827.27 L971.08,827.69 L972.08,828.12 L973.08,828.55 L974.08,828.98 L975.08,829.42 L976.08,829.85 L977.08,830.29 L978.08,830.73 L979.08,831.16 L980.08,831.60 L981.08,832.03 L982.08,832.47 L983.08,832.90 L984.08,833.33 L985.08,833.77 L986.08,834.20 L987.08,834.63 L988.08,835.06 L989.08,835.49 L990.08,835.91 L991.08,836.34 L992.08,836.76 L993.08,837.18 L994.08,837.60 L995.08,838.02 L996.08,838.43 L997.08,838.85 L998.08,839.27 L999.08,839.69 L1000.08,840.10 L1001.08,840.52 L1002.08,840.94 L1003.08,841.35 L1004.08,841.76 L1005.08,842.18 L1006.08,842.58 L1007.08,842.99 L1008.08,843.39 L1009.08,843.80 L1010.08,844.19 L1011.08,844.59 L1012.08,844.97 L1013.08,845.36 L1014.08,845.74 L1015.08,846.11 L1016.08,846.48 L1017.08,846.85 L1018.08,847.21 L1019.08,847.58 L1020.08,847.94 L1021.08,848.31 L1022.08,848.67 L1023.08,849.03 L1024.08,849.38 L1025.08,849.74 L1026.08,850.09 L1027.08,850.43 L1028.08,850.77 L1029.08,851.11 L1030.08,851.44 L1031.08,851.77 L1032.08,852.08 L1033.08,852.39 L1034.08,852.70 L1035.08,852.99 L1036.08,853.28 L1037.08,853.55 L1038.08,853.82 L1039.08,854.08 L1040.08,854.34 L1041.08,854.59 L1042.08,854.84 L1043.08,855.09 L1044.08,855.33 L1045.08,855.56 L1046.08,855.78 L1047.08,856.00 L1048.08,856.21 L1049.08,856.41 L1050.08,856.60 L1051.08,856.78 L1052.08,856.95 L1053.08,857.11 L1054.08,857.27 L1055.08,857.43 L1056.08,857.58 L1057.08,857.73 L1058.08,857.88 L1059.08,858.02 L1060.08,858.16 L1061.08,858.28 L1062.08,858.40 L1063.08,858.51 L1064.08,858.60 L1065.08,858.69 L1066.08,858.76 L1067.08,858.81 L1068.08,858.86 L1069.08,858.91 L1070.08,858.95 L1071.08,858.99 L1072.08,859.03 L1073.08,859.06 L1074.08,859.09 L1075.08,859.12 L1076.08,859.14 L1077.08,859.17 L1078.08,859.19 L1079.08,859.22 L1080.08,859.24 L1081.08,859.27 L1082.08,859.29 L1083.08,859.32 L1084.08,859.35 L1085.08,859.38 L1086.08,859.41 L1087.08,859.45 L1088.08,859.49 L1089.08,859.53 L1090.08,859.57 L1091.08,859.62 L1092.08,859.66 L1093.08,859.71 L1094.08,859.76 L1095.08,859.81 L1096.08,859.86 L1097.08,859.92 L1098.08,859.98 L1099.08,860.04 L1100.08,860.10 L1101.08,860.17 L1102.08,860.25 L1103.08,860.32 L1104.08,860.40 L1105.08,860.50 L1106.08,860.59 L1107.08,860.70 L1108.08,860.81 L1109.08,860.93 L1110.08,861.05 L1111.08,861.18 L1112.08,861.32 L1113.08,861.46 L1114.08,861.61 L1115.08,861.76 L1116.08,861.92 L1117.08,862.08 L1118.08,862.25 L1119.08,862.43 L1120.08,862.63 L1121.08,862.84 L1122.08,863.06 L1123.08,863.29 L1124.08,863.53 L1125.08,863.78 L1126.08,864.04 L1127.08,864.31 L1128.08,864.59 L1129.08,864.87 L1130.08,865.15 L1131.08,865.45 L1132.08,865.74 L1133.08,866.05 L1134.08,866.37 L1135.08,866.71 L1136.08,867.05 L1137.08,867.41 L1138.08,867.77 L1139.08,868.15 L1140.08,868.54 L1141.08,868.95 L1142.08,869.36 L1143.08,869.79 L1144.08,870.23 L1145.08,870.68 L1146.08,871.14 L1147.08,871.64 L1148.08,872.18 L1149.08,872.76 L1150.08,873.36 L1151.08,873.98 L1152.08,874.59 L1153.08,875.19 L1154.08,875.76 L1155.08,876.29 L1156.08,876.70 L1157.08,877.06 L1158.08,877.44 L1159.08,877.93 L1160.08,878.63 L1161.06,880.15 L1161.50,881.69 L1161.88,883.27 L1162.24,884.82 L1162.62,886.37 L1163.08,887.89 L1163.86,889.42 L1164.84,890.93 L1165.84,892.19 L1166.84,893.26 L1167.84,894.23 L1168.84,895.09 L1169.84,895.81 L1170.84,896.44 L1171.84,897.01 L1172.84,897.56 L1173.84,898.14 L1174.84,898.78 L1175.84,899.52 L1176.84,900.40 L1177.84,901.47 L1178.74,903.01 L1179.42,904.52 L1180.06,906.06 L1180.70,907.57 L1181.42,909.07 L1182.42,910.54 L1183.42,911.70 L1184.42,912.71 L1185.42,913.57 L1186.42,914.31 L1187.42,914.94 L1188.42,915.49 L1189.42,915.96 L1190.42,916.40 L1191.42,916.82 L1192.42,917.26 L1193.42,917.73 L1194.42,918.26 L1195.42,918.89 L1196.42,919.74 L1197.42,920.75 L1198.42,921.81 L1199.42,922.81 L1200.42,923.65 L1201.42,924.22 L1202.42,924.41 L1203.42,924.47 L1204.42,924.51 L1205.42,924.54 L1206.42,924.56 L1207.42,924.58 L1208.42,924.60 L1209.42,924.63 L1210.42,924.67 L1211.42,924.75 L1212.42,924.91 L1213.42,925.15 L1214.42,925.44 L1215.42,925.76 L1216.42,926.09 L1217.42,926.40 L1218.42,926.67 L1219.42,926.87 L1220.42,926.99 L1221.42,926.99 L1222.42,926.94 L1223.42,926.83 L1224.42,926.69 L1225.42,926.52 L1226.42,926.32 L1227.42,926.11 L1228.42,925.90 L1229.42,925.69 L1230.42,925.49 L1231.42,925.31 L1232.42,925.15 L1233.42,924.99 L1234.42,924.83 L1235.42,924.66 L1236.42,924.50 L1237.42,924.34 L1238.42,924.18 L1239.42,924.01 L1240.42,923.85 L1241.42,923.68 L1242.42,923.52 L1243.42,923.35 L1244.42,923.18 L1245.42,923.00 L1246.42,922.83 L1247.42,922.65 L1248.42,922.47 L1249.42,922.28 L1250.42,922.08 L1251.42,921.86 L1252.42,921.64 L1253.42,921.40 L1254.42,921.17 L1255.42,920.93 L1256.42,920.70 L1257.42,920.48 L1258.42,920.26 L1259.42,920.06 L1260.42,919.88 L1261.42,919.72 L1262.42,919.59 L1263.42,919.48 L1264.42,919.38 L1265.42,919.28 L1266.42,919.19 L1267.42,919.10 L1268.42,919.01 L1269.42,918.93 L1270.42,918.84 L1271.42,918.77 L1272.42,918.70 L1273.42,918.63 L1274.42,918.58 L1275.42,918.53 L1276.42,918.48 L1277.42,918.45 L1278.42,918.42 L1279.42,918.41 L1280.42,918.40 L1281.42,918.40 L1282.42,918.42 L1283.42,918.43 L1284.42,918.46 L1285.42,918.49 L1286.42,918.53 L1287.42,918.58 L1288.42,918.62 L1289.42,918.68 L1290.42,918.73 L1291.42,918.79 L1292.42,918.86 L1293.42,918.92 L1294.42,918.99 L1295.42,919.05 L1296.42,919.12 L1297.42,919.18 L1298.42,919.25 L1299.42,919.31 L1300.42,919.39 L1301.42,919.47 L1302.42,919.56 L1303.42,919.66 L1304.42,919.76 L1305.42,919.87 L1306.42,919.98 L1307.42,920.08 L1308.42,920.19 L1309.42,920.29 L1310.42,920.38 L1311.42,920.46 L1312.42,920.53 L1313.42,920.59 L1314.42,920.64 L1315.42,920.69 L1316.42,920.74 L1317.42,920.79 L1318.42,920.83 L1319.42,920.87 L1320.42,920.91 L1321.42,920.94 L1322.42,920.97 L1323.42,920.99 L1324.42,921.00 L1325.42,921.00 L1326.42,920.98 L1327.42,920.94 L1328.42,920.88 L1329.42,920.80 L1330.42,920.71 L1331.42,920.60 L1332.42,920.47 L1333.42,920.34 L1334.42,920.19 L1335.42,920.03 L1336.42,919.87 L1337.42,919.70 L1338.42,919.52 L1339.42,919.34 L1340.42,919.16 L1341.42,918.98 L1342.42,918.80 L1343.42,918.60 L1344.42,918.38 L1345.42,918.14 L1346.42,917.88 L1347.42,917.60 L1348.42,917.31 L1349.42,917.00 L1350.42,916.68 L1351.42,916.35 L1352.42,916.01 L1353.42,915.67 L1354.42,915.32 L1355.42,914.98 L1356.42,914.63 L1357.42,914.28 L1358.42,913.92 L1359.42,913.55 L1360.42,913.16 L1361.42,912.76 L1362.42,912.36 L1363.42,911.94 L1364.42,911.53 L1365.42,911.10 L1366.42,910.68 L1367.42,910.26 L1368.42,909.84 L1369.42,909.42 L1370.42,909.01 L1371.42,908.61 L1372.42,908.21 L1373.42,907.79 L1374.42,907.38 L1375.42,906.96 L1376.42,906.54 L1377.42,906.12 L1378.42,905.70 L1379.42,905.29 L1380.42,904.89 L1381.42,904.50 L1382.42,904.11 L1383.42,903.75 L1384.42,903.39 L1385.42,903.06 L1386.42,902.74 L1387.42,902.41 L1388.42,902.09 L1389.42,901.77 L1390.42,901.45 L1391.42,901.14 L1392.42,900.84 L1393.42,900.55 L1394.42,900.28 L1395.42,900.02 L1396.42,899.78 L1397.42,899.56 L1398.42,899.36 L1399.42,899.19 L1400.42,899.04 L1401.42,898.90 L1402.42,898.76 L1403.42,898.62 L1404.42,898.48 L1405.42,898.35 L1406.42,898.23 L1407.42,898.12 L1408.42,898.02 L1409.42,897.93 L1410.42,897.85 L1411.42,897.79 L1412.42,897.74 L1413.42,897.71 L1414.42,897.70 L1415.42,897.71 L1416.42,897.74 L1417.42,897.78 L1418.42,897.84 L1419.42,897.92 L1420.42,898.00 L1421.42,898.10 L1422.42,898.21 L1423.42,898.34 L1424.42,898.46 L1425.42,898.60 L1426.42,898.74 L1427.42,898.89 L1428.42,899.04 L1429.42,899.21 L1430.42,899.41 L1431.42,899.67 L1432.42,899.96 L1433.42,900.29 L1434.42,900.65 L1435.42,901.03 L1436.42,901.44 L1437.42,901.86 L1438.42,902.29 L1439.42,902.74 L1440.42,903.18 L1441.42,903.63 L1442.42,904.07 L1443.42,904.49 L1444.42,904.94 L1445.42,905.40 L1446.42,905.89 L1447.42,906.40 L1448.42,906.91 L1449.42,907.44 L1450.42,907.97 L1451.42,908.50 L1452.42,909.03 L1453.42,909.56 L1454.42,910.07 L1455.42,910.57 L1456.42,911.06 L1457.42,911.52 L1458.42,911.97 L1459.42,912.43 L1460.42,912.89 L1461.42,913.35 L1462.42,913.81 L1463.42,914.27 L1464.42,914.71 L1465.42,915.14 L1466.42,915.56 L1467.42,915.95 L1468.42,916.32 L1469.42,916.67 L1470.42,916.98 L1471.42,917.26 L1472.42,917.50 L1473.42,917.74 L1474.42,917.98 L1475.42,918.21 L1476.42,918.44 L1477.42,918.66 L1478.42,918.87 L1479.42,919.07 L1480.42,919.24 L1481.42,919.40 L1482.42,919.54 L1483.42,919.65 L1484.42,919.73 L1485.42,919.78 L1486.42,919.80 L1487.42,919.80 L1488.42,919.80 L1489.42,919.80 L1490.42,919.80 L1491.42,919.80 L1492.42,919.80 L1493.42,919.80 L1494.42,919.80 L1495.42,919.80 L1496.42,919.80 L1497.42,919.80 L1498.42,919.80 L1499.42,919.80 L1500.42,919.80 L1501.42,919.79 L1502.42,919.76 L1503.42,919.69 L1504.42,919.59 L1505.42,919.47 L1506.42,919.33 L1507.42,919.17 L1508.42,918.99 L1509.42,918.80 L1510.42,918.59 L1511.42,918.38 L1512.42,918.16 L1513.42,917.95 L1514.42,917.73 L1515.42,917.51 L1516.42,917.25 L1517.42,916.95 L1518.42,916.63 L1519.42,916.28 L1520.42,915.92 L1521.42,915.55 L1522.42,915.19 L1523.42,914.83 L1524.42,914.49 L1525.42,914.16 L1526.42,913.82 L1527.42,913.48 L1528.42,913.13 L1529.42,912.79 L1530.42,912.44 L1531.42,912.10 L1532.42,911.76 L1533.42,911.42 L1534.42,911.10 L1535.42,910.78 L1536.42,910.47 L1537.42,910.18 L1538.42,909.90 L1539.42,909.64 L1540.42,909.37 L1541.42,909.10 L1542.42,908.84 L1543.42,908.57 L1544.42,908.32 L1545.42,908.07 L1546.42,907.83 L1547.42,907.60 L1548.42,907.39 L1549.42,907.19 L1550.42,907.00 L1551.42,906.84 L1552.42,906.70 L1553.42,906.57 L1554.42,906.46 L1555.42,906.35 L1556.42,906.24 L1557.42,906.13 L1558.42,906.03 L1559.42,905.93 L1560.42,905.83 L1561.42,905.75 L1562.42,905.67 L1563.42,905.60 L1564.42,905.54 L1565.42,905.49 L1566.42,905.45 L1567.42,905.42 L1568.42,905.40 L1569.42,905.40 L1570.42,905.42 L1571.42,905.46 L1572.42,905.52 L1573.42,905.60 L1574.42,905.69 L1575.42,905.79 L1576.42,905.90 L1577.42,906.02 L1578.42,906.14 L1579.42,906.27 L1580.42,906.40 L1581.42,906.53 L1582.42,906.65 L1583.42,906.80 L1584.42,906.95 L1585.42,907.13 L1586.42,907.31 L1587.42,907.50 L1588.42,907.71 L1589.42,907.92 L1590.42,908.14 L1591.42,908.37 L1592.42,908.59 L1593.42,908.82 L1594.42,909.05 L1595.42,909.28 L1596.42,909.50 L1597.42,909.73 L1598.42,909.97 L1599.42,910.21 L1600.42,910.46 L1601.42,910.71 L1602.42,910.97 L1603.42,911.22 L1604.42,911.48 L1605.42,911.74 L1606.42,912.00 L1607.42,912.26 L1608.42,912.51 L1609.42,912.76 L1610.42,913.01 L1611.42,913.25 L1612.42,913.49 L1613.42,913.74 L1614.42,913.98 L1615.42,914.23 L1616.42,914.48 L1617.42,914.72 L1618.42,914.96 L1619.42,915.19 L1620.42,915.42 L1621.42,915.65 L1622.42,915.86 L1623.42,916.06 L1624.42,916.26 L1625.42,916.44 L1626.42,916.62 L1627.42,916.79 L1628.42,916.97 L1629.42,917.13 L1630.42,917.30 L1631.42,917.46 L1632.42,917.62 L1633.42,917.77 L1634.42,917.91 L1635.42,918.04 L1636.42,918.17 L1637.42,918.28 L1638.42,918.39 L1639.42,918.48 L1640.42,918.57 L1641.42,918.66 L1642.42,918.75 L1643.42,918.84 L1644.42,918.92 L1645.42,919.00 L1646.42,919.08 L1647.42,919.15 L1648.42,919.22 L1649.42,919.27 L1650.42,919.32 L1651.42,919.36 L1652.42,919.38 L1653.42,919.40 L1654.42,919.40 L1655.42,919.40 L1656.42,919.40 L1657.42,919.39 L1658.42,919.39 L1659.42,919.38 L1660.42,919.38 L1661.42,919.37 L1662.42,919.36 L1663.42,919.36 L1664.42,919.35 L1665.42,919.34 L1666.42,919.32 L1667.42,919.31 L1668.42,919.30 L1669.42,919.28 L1670.42,919.23 L1671.42,919.17 L1672.42,919.09 L1673.42,919.00 L1674.42,918.90 L1675.42,918.79 L1676.42,918.66 L1677.42,918.53 L1678.42,918.40 L1679.42,918.26 L1680.42,918.12 L1681.42,917.99 L1682.42,917.85 L1683.42,917.72 L1684.42,917.57 L1685.42,917.42 L1686.42,917.25 L1687.42,917.08 L1688.42,916.90 L1689.42,916.71 L1690.42,916.52 L1691.42,916.33 L1692.42,916.14 L1693.42,915.94 L1694.42,915.74 L1695.42,915.54 L1696.42,915.35 L1697.42,915.16 L1698.42,914.97 L1699.42,914.77 L1700.42,914.58 L1701.42,914.38 L1702.42,914.18 L1703.42,913.98 L1704.42,913.78 L1705.42,913.57 L1706.42,913.37 L1707.42,913.17 L1708.42,912.96 L1709.42,912.75 L1710.42,912.55 L1711.42,912.34 L1712.42,912.13 L1713.42,911.92 L1714.42,911.71 L1715.42,911.50 L1716.42,911.28 L1717.42,911.07 L1718.42,910.86 L1719.42,910.64 L1720.42,910.42 L1721.42,910.21 L1722.42,909.99 L1723.42,909.77 L1724.42,909.55 L1725.42,909.33 L1726.42,909.11 L1727.42,908.88 L1728.42,908.66 L1729.42,908.43 L1730.42,908.20 L1731.42,907.97 L1732.42,907.74 L1733.42,907.51 L1734.42,907.28 L1735.42,907.05 L1736.42,906.82 L1737.42,906.59 L1738.42,906.36 L1739.42,906.13 L1740.42,905.90 L1741.42,905.66 L1742.42,905.43 L1743.42,905.19 L1744.42,904.95 L1745.42,904.71 L1746.42,904.47 L1747.42,904.24 L1748.42,904.00 L1749.42,903.77 L1750.42,903.54 L1751.42,903.31 L1752.42,903.09 L1753.42,902.88 L1754.42,902.68 L1755.42,902.48 L1756.42,902.28 L1757.42,902.07 L1758.42,901.87 L1759.42,901.67 L1760.42,901.47 L1761.42,901.28 L1762.42,901.10 L1763.42,900.92 L1764.42,900.75 L1765.42,900.59 L1766.42,900.44 L1767.42,900.30 L1768.42,900.18 L1769.42,900.08 L1770.42,899.98 L1771.42,899.88 L1772.42,899.78 L1773.42,899.68 L1774.42,899.59 L1775.42,899.50 L1776.42,899.42 L1777.42,899.34 L1778.42,899.28 L1779.42,899.22 L1780.42,899.17 L1781.42,899.13 L1782.42,899.11 L1783.42,899.10 L1784.42,899.10 L1785.42,899.12 L1786.42,899.15 L1787.42,899.20 L1788.42,899.25 L1789.42,899.31 L1790.42,899.38 L1791.42,899.46 L1792.42,899.55 L1793.42,899.65 L1794.42,899.75 L1795.42,899.86 L1796.42,899.97 L1797.42,900.08 L1798.42,900.21 L1799.42,900.38 L1800.42,900.59 L1801.42,900.83 L1802.42,901.11 L1803.42,901.41 L1804.42,901.73 L1805.42,902.07 L1806.42,902.42 L1807.42,902.79 L1808.42,903.16 L1809.42,903.53 L1810.42,903.90 L1811.42,904.26 L1812.42,904.63 L1813.42,905.01 L1814.42,905.41 L1815.42,905.83 L1816.42,906.26 L1817.42,906.71 L1818.42,907.16 L1819.42,907.62 L1820.42,908.08 L1821.42,908.53 L1822.42,908.99 L1823.42,909.43 L1824.42,909.87 L1825.42,910.28 L1826.42,910.69 L1827.42,911.08 L1828.42,911.48 L1829.42,911.87 L1830.42,912.26 L1831.42,912.65 L1832.42,913.03 L1833.42,913.41 L1834.42,913.78 L1835.42,914.15 L1836.42,914.50 L1837.42,914.85 L1838.42,915.19 L1839.42,915.52 L1840.42,915.84 L1841.42,916.16 L1842.42,916.47 L1843.42,916.79 L1844.42,917.11 L1845.42,917.42 L1846.42,917.73 L1847.42,918.03 L1848.42,918.32 L1849.42,918.60 L1850.42,918.86 L1851.42,919.10 L1852.42,919.33 L1853.42,919.53 L1854.42,919.71 L1855.42,919.86 L1856.42,920.01 L1857.42,920.16 L1858.42,920.31 L1859.42,920.46 L1860.42,920.59 L1861.42,920.73 L1862.42,920.85 L1863.42,920.96 L1864.42,921.06 L1865.42,921.14 L1866.42,921.21 L1867.42,921.26 L1868.42,921.29 L1869.42,921.30 L1870.42,921.30 L1871.42,921.29 L1872.42,921.28 L1873.42,921.27 L1874.42,921.26 L1875.42,921.24 L1876.42,921.22 L1877.42,921.20 L1878.42,921.17 L1879.42,921.15 L1880.42,921.12 L1881.42,921.08 L1882.42,921.05 L1883.42,921.01 L1884.42,920.97 L1885.42,920.89 L1886.42,920.77 L1887.42,920.62 L1888.42,920.45 L1889.42,920.25 L1890.42,920.03 L1891.42,919.80 L1892.42,919.55 L1893.42,919.30 L1894.42,919.04 L1895.42,918.78 L1896.42,918.53 L1897.42,918.28 L1898.42,918.05 L1899.42,917.81 L1900.42,917.56 L1901.42,917.29 L1902.42,917.02 L1903.42,916.74 L1904.42,916.46 L1905.42,916.18 L1906.42,915.89 L1907.42,915.60 L1908.42,915.32 L1909.42,915.04 L1910.42,914.77 L1911.42,914.50 L1912.42,914.24 L1913.42,913.99 L1914.42,913.74 L1915.42,913.48 L1916.42,913.22 L1917.42,912.96 L1918.42,912.70 L1919.42,912.44 L1920.42,912.20 L1921.42,911.96 L1922.42,911.73 L1923.42,911.52 L1924.42,911.32 L1925.42,911.14 L1926.42,910.98 L1927.42,910.84 L1928.42,910.70 L1929.42,910.57 L1930.42,910.43 L1931.42,910.30 L1932.42,910.17 L1933.42,910.04 L1934.42,909.93 L1935.42,909.83 L1936.42,909.73 L1937.42,909.65 L1938.42,909.59 L1939.42,909.54 L1940.42,909.51 L1941.42,909.50 L1942.42,909.51 L1943.42,909.53 L1944.42,909.57 L1945.42,909.62 L1946.42,909.68 L1947.42,909.75 L1948.42,909.83 L1949.42,909.92 L1950.42,910.01 L1951.42,910.12 L1952.42,910.22 L1953.42,910.33 L1954.42,910.44 L1955.42,910.56 L1956.42,910.68 L1957.42,910.82 L1958.42,910.99 L1959.42,911.18 L1960.42,911.38 L1961.42,911.60 L1962.42,911.84 L1963.42,912.09 L1964.42,912.34 L1965.42,912.59 L1966.42,912.85 L1967.42,913.11 L1968.42,913.37 L1969.42,913.61 L1970.42,913.85 L1971.42,914.09 L1972.42,914.34 L1973.42,914.60 L1974.42,914.86 L1975.42,915.12 L1976.42,915.39 L1977.42,915.65 L1978.42,915.91 L1979.42,916.17 L1980.42,916.43 L1981.42,916.67 L1982.42,916.91 L1983.42,917.14 L1984.42,917.36 L1985.42,917.58 L1986.42,917.80 L1987.42,918.03 L1988.42,918.26 L1989.42,918.49 L1990.42,918.72 L1991.42,918.94 L1992.42,919.15 L1993.42,919.34 L1994.42,919.52 L1995.42,919.68 L1996.42,919.81 L1997.42,919.91 L1998.42,919.98 L1999.42,920.01 L2000.42,920.04 L2001.42,920.07 L2002.42,920.09 L2003.42,920.12 L2004.42,920.14 L2005.42,920.16 L2006.42,920.17 L2007.42,920.18 L2008.42,920.19 L2009.42,920.20 L2010.42,920.20 L2011.42,920.18 L2012.42,920.12 L2013.42,920.03 L2014.42,919.90 L2015.42,919.74 L2016.42,919.55 L2017.42,919.34 L2018.42,919.12 L2019.42,918.88 L2020.42,918.62 L2021.42,918.37 L2022.42,918.11 L2023.42,917.85 L2024.42,917.59 L2025.42,917.30 L2026.42,916.97 L2027.42,916.62 L2028.42,916.23 L2029.42,915.83 L2030.42,915.42 L2031.40,915.00" fill="none" stroke="#0000ff" stroke-width="7" stroke-linejoin="round" stroke-linecap="butt" shape-rendering="crispEdges"/>
<g fill="none" stroke="#ff0000" stroke-width="7" stroke-linejoin="round" stroke-linecap="butt" stroke-dasharray="34 11.3 9.8 11.3" shape-rendering="crispEdges">
<path d="M230.50,267.20 L230.52,268.98 L230.54,270.77 L230.56,272.58 L230.58,274.39 L230.60,276.22 L230.62,278.07 L230.64,279.93 L230.66,281.79 L230.68,283.68 L230.70,285.57 L230.72,287.48 L230.74,289.40 L230.76,291.33 L230.78,293.27 L230.80,295.22 L230.82,297.19 L230.84,299.17 L230.86,301.15 L230.88,303.15 L230.90,305.16 L230.92,307.19 L230.94,309.22 L230.96,311.26 L230.98,313.32 L231.00,315.38 L231.02,317.46 L231.04,319.54 L231.06,321.64 L231.08,323.74 L231.10,325.85 L231.12,327.98 L231.14,330.11 L231.16,332.26 L231.18,334.41 L231.20,336.57 L231.22,338.74 L231.24,340.92 L231.26,343.11 L231.28,345.31 L231.30,347.51 L231.32,349.73 L231.34,351.95 L231.36,354.18 L231.38,356.42 L231.40,358.66 L231.42,360.92 L231.44,363.18 L231.46,365.45 L231.48,367.72 L231.50,370.01 L231.52,372.30 L231.54,374.60 L231.56,376.90 L231.58,379.21 L231.60,381.53 L231.62,383.85 L231.64,386.18 L231.66,388.52 L231.68,390.86 L231.70,393.21 L231.72,395.57 L231.74,397.93 L231.76,400.29 L231.78,402.66 L231.80,405.04 L231.82,407.42 L231.84,409.81 L231.86,412.20 L231.88,414.60 L231.90,417.00 L231.92,419.37 L231.94,421.67 L231.96,423.93 L231.98,426.14 L232.00,428.32 L232.02,430.49 L232.04,432.65 L232.06,434.81 L232.08,436.99 L232.10,439.19 L232.12,441.43 L232.14,443.72 L232.16,446.07 L232.18,448.50 L232.20,451.00 L232.22,453.59 L232.24,456.30 L232.26,459.11 L232.28,462.06 L232.30,465.14 L232.32,468.37 L232.34,471.76 L232.36,475.32 L232.38,479.06 L232.40,483.00 L232.42,487.73 L232.44,493.67 L232.46,500.51 L232.48,507.99 L232.50,515.80 L232.52,523.68 L232.54,531.32 L232.56,538.44 L232.58,544.77 L232.60,550.00 L232.62,554.47 L232.64,558.69 L232.66,562.70 L232.68,566.50 L232.70,570.12 L232.72,573.57 L232.74,576.89 L232.76,580.08 L232.78,583.16 L232.80,586.17 L232.82,589.11 L232.84,592.01 L232.86,594.88 L232.88,597.75 L232.90,600.63 L232.92,603.56 L232.94,606.53 L232.96,609.59 L232.98,612.74 L233.00,616.00 L233.02,619.33 L233.04,622.67 L233.06,626.02 L233.08,629.37 L233.10,632.73 L233.12,636.10 L233.14,639.46 L233.16,642.83 L233.18,646.21 L233.20,649.58 L233.22,652.96 L233.24,656.34 L233.26,659.72 L233.28,663.09 L233.30,666.47 L233.32,669.84 L233.34,673.22 L233.36,676.58 L233.38,679.95 L233.40,683.30 L233.42,686.66 L233.44,690.00 L233.46,693.34 L233.48,696.68 L233.50,700.00 L233.52,703.33 L233.54,706.66 L233.56,710.01 L233.58,713.36 L233.60,716.72 L233.62,720.09 L233.64,723.45 L233.66,726.81 L233.68,730.18 L233.70,733.53 L233.72,736.88 L233.74,740.22 L233.76,743.56 L233.78,746.87 L233.80,750.18 L233.82,753.47 L233.84,756.74 L233.86,759.99 L233.88,763.21 L233.90,766.42 L233.92,769.59 L233.94,772.74 L233.96,775.86 L233.98,778.95 L234.00,782.00 L234.02,785.02 L234.04,788.02 L234.06,790.99 L234.08,793.94 L234.10,796.86 L234.12,799.77 L234.14,802.65 L234.16,805.52 L234.18,808.36 L234.20,811.20 L234.22,814.01 L234.24,816.81 L234.26,819.60 L234.28,822.38 L234.30,825.15 L234.32,827.91 L234.34,830.65 L234.36,833.40 L234.38,836.13 L234.40,838.86 L234.42,841.59 L234.44,844.31 L234.46,847.03 L234.48,849.76 L234.50,852.48 L234.52,855.20 L234.54,857.93 L234.56,860.66 L234.58,863.40 L234.60,866.14 L234.62,868.89 L234.64,871.66 L234.66,874.43 L234.68,877.21 L234.70,880.00 L234.72,882.80 L234.74,885.59 L234.76,888.37 L234.78,891.15 L234.80,893.92 L234.82,896.69 L234.84,899.46 L234.86,902.23 L234.88,904.99 L234.90,907.76 L234.92,910.53 L234.94,913.30 L234.96,916.07 L234.98,918.85 L235.00,921.64 L235.02,924.43 L235.04,927.23 L235.06,930.04 L235.08,932.85 L235.10,935.68 L235.12,938.52 L235.14,941.37 L235.16,944.23 L235.18,947.11 L235.20,950.00 L235.22,952.98 L235.24,956.09 L235.26,959.33 L235.28,962.65 L235.30,966.05 L235.32,969.50 L235.34,972.97 L235.36,976.44 L235.38,979.90 L235.40,983.30 L235.42,986.65 L235.44,989.90 L235.46,993.05 L235.48,996.05 L235.50,998.90 L235.52,1001.58 L235.54,1004.04 L235.56,1006.29 L235.58,1008.28 L235.60,1010.00 L235.62,1011.57 L235.64,1013.14 L235.66,1014.70 L235.68,1016.25 L235.70,1017.79 L235.72,1019.32 L235.74,1020.85 L235.76,1022.36 L235.78,1023.87 L235.82,1026.86 L235.86,1029.81 L235.90,1032.72 L235.94,1035.60 L235.98,1038.44 L236.02,1041.24 L236.06,1044.00 L236.10,1046.73 L236.14,1049.41 L236.18,1052.05 L236.22,1054.65 L236.26,1057.20 L236.30,1059.71 L236.34,1062.18 L236.38,1064.61 L236.42,1066.98 L236.46,1069.31 L236.50,1071.60 L236.54,1073.84 L236.58,1076.03 L236.62,1078.17 L236.66,1080.26 L236.70,1082.30 L236.74,1084.29 L236.78,1086.23 L236.82,1088.11 L236.86,1089.94 L236.90,1091.72 L236.94,1093.45 L236.98,1095.12 L237.02,1096.73 L237.06,1098.29 L237.10,1099.79 L237.16,1101.93 L237.22,1103.94 L237.28,1105.82 L237.34,1107.56 L237.40,1109.16 L237.48,1111.07 L237.56,1112.73 L237.66,1114.43 L237.80,1116.10 L238.42,1114.55 L238.54,1112.98 L238.64,1111.40 L238.74,1109.56 L238.82,1107.92 L238.90,1106.13 L238.98,1104.19 L239.04,1102.63 L239.10,1101.00 L239.16,1099.29 L239.22,1097.50 L239.28,1095.64 L239.34,1093.69 L239.40,1091.68 L239.46,1089.59 L239.52,1087.43 L239.58,1085.20 L239.62,1083.68 L239.66,1082.12 L239.70,1080.53 L239.74,1078.92 L239.78,1077.28 L239.82,1075.60 L239.86,1073.90 L239.90,1072.18 L239.94,1070.42 L239.98,1068.64 L240.02,1066.83 L240.06,1064.99 L240.10,1063.13 L240.14,1061.24 L240.18,1059.33 L240.22,1057.39 L240.26,1055.43 L240.30,1053.44 L240.34,1051.43 L240.38,1049.40 L240.42,1047.35 L240.46,1045.27 L240.50,1043.17 L240.54,1041.04 L240.58,1038.90 L240.62,1036.74 L240.66,1034.55 L240.70,1032.35 L240.74,1030.12 L240.78,1027.88 L240.82,1025.61 L240.86,1023.33 L240.90,1021.03 L240.94,1018.71 L240.98,1016.38 L241.02,1014.03 L241.06,1011.66 L241.10,1009.27 L241.14,1006.87 L241.18,1004.45 L241.22,1002.02 L241.26,999.57 L241.30,997.11 L241.34,994.64 L241.38,992.15 L241.42,989.64 L241.46,987.13 L241.50,984.60 L241.54,982.06 L241.58,979.51 L241.62,976.95 L241.66,974.38 L241.70,971.79 L241.74,969.20 L241.78,966.59 L241.82,963.98 L241.86,961.36 L241.90,958.73 L241.94,956.09 L241.98,953.44 L242.02,950.79 L242.06,948.13 L242.10,945.46 L242.14,942.78 L242.18,940.10 L242.22,937.42 L242.26,934.73 L242.30,932.03 L242.34,929.33 L242.38,926.63 L242.42,923.92 L242.46,921.21 L242.50,918.50 L242.54,915.78 L242.58,913.06 L242.62,910.34 L242.66,907.62 L242.70,904.90 L242.74,902.18 L242.78,899.46 L242.82,896.74 L242.86,894.02 L242.90,891.30 L242.94,888.58 L242.98,885.86 L243.02,883.15 L243.06,880.43 L243.10,877.72 L243.14,875.02 L243.18,872.32 L243.22,869.62 L243.26,866.93 L243.30,864.24 L243.34,861.56 L243.38,858.88 L243.42,856.21 L243.46,853.54 L243.50,850.88 L243.54,848.23 L243.58,845.59 L243.62,842.96 L243.66,840.33 L243.70,837.71 L243.74,835.10 L243.78,832.50 L243.82,829.92 L243.86,827.34 L243.90,824.77 L243.94,822.21 L243.98,819.67 L244.02,817.13 L244.06,814.61 L244.10,812.10 L244.14,809.61 L244.18,807.12 L244.22,804.66 L244.26,802.20 L244.30,799.76 L244.34,797.34 L244.38,794.93 L244.42,792.53 L244.46,790.16 L244.50,787.80 L244.54,785.45 L244.58,783.13 L244.62,780.82 L244.66,778.52 L244.70,776.25 L244.74,774.00 L244.78,771.76 L244.82,769.55 L244.86,767.35 L244.90,765.18 L244.94,763.02 L244.98,760.89 L245.02,758.78 L245.06,756.69 L245.10,754.62 L245.14,752.58 L245.18,750.56 L245.22,748.56 L245.26,746.59 L245.30,744.64 L245.34,742.71 L245.38,740.81 L245.42,738.94 L245.46,737.09 L245.50,735.26 L245.54,733.47 L245.58,731.70 L245.62,729.96 L245.66,728.24 L245.70,726.56 L245.74,724.90 L245.78,723.27 L245.82,721.67 L245.86,720.10 L245.90,718.56 L245.94,717.05 L246.00,714.84 L246.06,712.71 L246.12,710.64 L246.18,708.65 L246.24,706.73 L246.30,704.89 L246.36,703.13 L246.42,701.44 L246.48,699.84 L246.54,698.31 L246.62,696.41 L246.70,694.65 L246.78,693.05 L246.88,691.27 L246.98,689.73 L247.10,688.23 L247.28,686.68 L247.50,686.00"/>
<path d="M247.50,686.00 L247.70,687.15 L247.78,688.23 L247.84,689.27 L247.90,690.51 L247.96,691.93 L248.00,692.98 L248.04,694.11 L248.08,695.32 L248.12,696.61 L248.16,697.98 L248.20,699.43 L248.24,700.95 L248.28,702.55 L248.32,704.22 L248.36,705.97 L248.40,707.79 L248.44,709.68 L248.48,711.64 L248.50,712.64 L248.52,713.67 L248.54,714.71 L248.56,715.77 L248.58,716.84 L248.60,717.93 L248.62,719.04 L248.64,720.17 L248.66,721.31 L248.68,722.47 L248.70,723.64 L248.72,724.83 L248.74,726.04 L248.76,727.26 L248.78,728.50 L248.80,729.75 L248.82,731.02 L248.84,732.30 L248.86,733.60 L248.88,734.91 L248.90,736.24 L248.92,737.59 L248.94,738.95 L248.96,740.32 L248.98,741.71 L249.00,743.11 L249.02,744.53 L249.04,745.96 L249.06,747.40 L249.08,748.86 L249.10,750.33 L249.12,751.82 L249.14,753.32 L249.16,754.83 L249.18,756.35 L249.20,757.89 L249.22,759.45 L249.24,761.01 L249.26,762.59 L249.28,764.18 L249.30,765.78 L249.32,767.40 L249.34,769.03 L249.36,770.67 L249.38,772.32 L249.40,773.98 L249.42,775.66 L249.44,777.34 L249.46,779.04 L249.48,780.75 L249.50,782.48 L249.52,784.21 L249.54,785.95 L249.56,787.71 L249.58,789.47 L249.60,791.25 L249.62,793.04 L249.64,794.84 L249.66,796.64 L249.68,798.46 L249.70,800.29 L249.72,802.13 L249.74,803.98 L249.76,805.84 L249.78,807.70 L249.80,809.58 L249.82,811.47 L249.84,813.36 L249.86,815.27 L249.88,817.18 L249.90,819.11 L249.92,821.04 L249.94,822.98 L249.96,824.93 L249.98,826.89 L250.00,828.85 L250.02,830.83 L250.04,832.81 L250.06,834.80 L250.08,836.80 L250.10,838.80 L250.12,840.81 L250.14,842.83 L250.16,844.86 L250.18,846.90 L250.20,848.94 L250.22,850.99 L250.24,853.05 L250.26,855.11 L250.28,857.18 L250.30,859.25 L250.32,861.34 L250.34,863.42 L250.36,865.52 L250.38,867.62 L250.40,869.73 L250.42,871.84 L250.44,873.96 L250.46,876.08 L250.48,878.21 L250.50,880.34 L250.52,882.48 L250.54,884.62 L250.56,886.77 L250.58,888.93 L250.60,891.09 L250.62,893.25 L250.64,895.42 L250.66,897.59 L250.68,899.77 L250.70,901.95 L250.72,904.13 L250.74,906.32 L250.76,908.51 L250.78,910.70 L250.80,912.90 L250.82,915.10 L250.84,917.31 L250.86,919.52 L250.88,921.73 L250.90,923.94 L250.92,926.16 L250.94,928.38 L250.96,930.60 L250.98,932.83 L251.00,935.05 L251.02,937.28 L251.04,939.51 L251.06,941.74 L251.08,943.98 L251.10,946.21 L251.12,948.45 L251.14,950.69 L251.16,952.93 L251.18,955.17 L251.20,957.41 L251.22,959.66 L251.24,961.90 L251.26,964.14 L251.28,966.39 L251.30,968.64 L251.32,970.88 L251.34,973.13 L251.36,975.37 L251.38,977.62 L251.40,979.86 L251.42,982.11 L251.44,984.36 L251.46,986.60 L251.48,988.84 L251.50,991.09 L251.52,993.33 L251.54,995.57 L251.56,997.81 L251.58,1000.05 L251.60,1002.29 L251.62,1004.52 L251.64,1006.76 L251.66,1008.99 L251.68,1011.22 L251.70,1013.45 L251.72,1015.67 L251.74,1017.90 L251.76,1020.12 L251.78,1022.34 L251.80,1024.56 L251.82,1026.77 L251.84,1028.98 L251.86,1031.19 L251.88,1033.40 L251.90,1035.60 L251.92,1037.80 L251.94,1039.99 L251.96,1042.18 L251.98,1044.37 L252.00,1046.55 L252.02,1048.73 L252.04,1050.91 L252.06,1053.08 L252.08,1055.25 L252.10,1057.41 L252.12,1059.57 L252.14,1061.73 L252.16,1063.88 L252.18,1066.02 L252.20,1068.16 L252.22,1070.29 L252.24,1072.42 L252.26,1074.54 L252.28,1076.66 L252.30,1078.77 L252.32,1080.88 L252.34,1082.98 L252.36,1085.08 L252.38,1087.16 L252.40,1089.25 L252.42,1091.32 L252.44,1093.39 L252.46,1095.45 L252.48,1097.51 L252.50,1099.56 L252.52,1101.60 L252.54,1103.64 L252.56,1105.67 L252.58,1107.69 L252.60,1109.70 L252.62,1111.70 L252.64,1113.70 L252.66,1115.69 L252.68,1117.67 L252.70,1119.65 L252.72,1121.61 L252.74,1123.57 L252.76,1125.52 L252.78,1127.46 L252.80,1129.39 L252.82,1131.32 L252.84,1133.23 L252.86,1135.14 L252.88,1137.03 L252.90,1138.92 L252.92,1140.80 L252.94,1142.66 L252.96,1144.52 L252.98,1146.37 L253.00,1148.21 L253.02,1150.04 L253.04,1151.86 L253.06,1153.66 L253.08,1155.46 L253.10,1157.25 L253.12,1159.03 L253.14,1160.79 L253.16,1162.55 L253.18,1164.29 L253.20,1166.02 L253.22,1167.75 L253.24,1169.46 L253.26,1171.16 L253.28,1172.84 L253.30,1174.52 L253.32,1176.18 L253.34,1177.83 L253.36,1179.47 L253.38,1181.10 L253.40,1182.72 L253.42,1184.32 L253.44,1185.91 L253.46,1187.49 L253.48,1189.05 L253.50,1190.61 L253.52,1192.15 L253.54,1193.67 L253.56,1195.18 L253.58,1196.68 L253.60,1198.17 L253.62,1199.64 L253.64,1201.10 L253.66,1202.54 L253.68,1203.97 L253.70,1205.39 L253.72,1206.79 L253.74,1208.18 L253.76,1209.55 L253.78,1210.91 L253.80,1212.26 L253.82,1213.59 L253.84,1214.90 L253.86,1216.20 L253.88,1217.48 L253.90,1218.75 L253.92,1220.00 L253.94,1221.24 L253.96,1222.46 L253.98,1223.67 L254.00,1224.86 L254.02,1226.03 L254.04,1227.19 L254.06,1228.33 L254.08,1229.46 L254.10,1230.57 L254.12,1231.66 L254.14,1232.73 L254.16,1233.79 L254.18,1234.83 L254.20,1235.86 L254.22,1236.86 L254.26,1238.82 L254.30,1240.71 L254.34,1242.53 L254.38,1244.28 L254.42,1245.95 L254.46,1247.55 L254.50,1249.07 L254.54,1250.52 L254.58,1251.89 L254.62,1253.18 L254.66,1254.39 L254.70,1255.52 L254.74,1256.57 L254.80,1257.99 L254.86,1259.23 L254.92,1260.27 L255.00,1261.35 L255.14,1262.40 L255.20,1262.50" stroke-dasharray="33.20 11.04 9.57 11.04" stroke-dashoffset="16.60"/>
<path d="M255.20,1262.50 L255.56,1261.47 L255.72,1260.37 L255.84,1259.29 L255.94,1258.24 L256.04,1257.04 L256.12,1255.99 L256.20,1254.84 L256.28,1253.62 L256.36,1252.30 L256.42,1251.27 L256.48,1250.18 L256.54,1249.06 L256.60,1247.88 L256.66,1246.67 L256.72,1245.41 L256.78,1244.10 L256.84,1242.76 L256.90,1241.37 L256.96,1239.95 L257.02,1238.48 L257.08,1236.98 L257.12,1235.95 L257.16,1234.91 L257.20,1233.85 L257.24,1232.78 L257.28,1231.69 L257.32,1230.58 L257.36,1229.45 L257.40,1228.32 L257.44,1227.16 L257.48,1225.99 L257.52,1224.80 L257.56,1223.60 L257.60,1222.39 L257.64,1221.16 L257.68,1219.91 L257.72,1218.65 L257.76,1217.38 L257.80,1216.09 L257.84,1214.79 L257.88,1213.47 L257.92,1212.15 L257.96,1210.80 L258.00,1209.45 L258.04,1208.08 L258.08,1206.70 L258.12,1205.31 L258.16,1203.91 L258.20,1202.49 L258.24,1201.06 L258.28,1199.62 L258.32,1198.17 L258.36,1196.71 L258.40,1195.23 L258.44,1193.75 L258.48,1192.25 L258.52,1190.75 L258.56,1189.23 L258.60,1187.70 L258.64,1186.17 L258.68,1184.62 L258.72,1183.07 L258.76,1181.50 L258.80,1179.93 L258.84,1178.34 L258.88,1176.75 L258.92,1175.15 L258.96,1173.54 L259.00,1171.92 L259.04,1170.30 L259.08,1168.66 L259.12,1167.02 L259.16,1165.37 L259.20,1163.72 L259.24,1162.05 L259.28,1160.38 L259.32,1158.71 L259.36,1157.02 L259.40,1155.33 L259.44,1153.64 L259.48,1151.94 L259.52,1150.23 L259.56,1148.52 L259.60,1146.80 L259.64,1145.07 L259.68,1143.35 L259.72,1141.61 L259.76,1139.87 L259.80,1138.13 L259.84,1136.38 L259.88,1134.63 L259.92,1132.88 L259.96,1131.12 L260.00,1129.36 L260.04,1127.59 L260.08,1125.82 L260.12,1124.05 L260.16,1122.28 L260.20,1120.50 L260.24,1118.72 L260.28,1116.94 L260.32,1115.16 L260.36,1113.37 L260.40,1111.58 L260.44,1109.80 L260.48,1108.01 L260.52,1106.22 L260.56,1104.42 L260.60,1102.63 L260.64,1100.84 L260.68,1099.05 L260.72,1097.25 L260.76,1095.46 L260.80,1093.67 L260.84,1091.88 L260.88,1090.08 L260.92,1088.29 L260.96,1086.50 L261.00,1084.72 L261.04,1082.93 L261.08,1081.14 L261.12,1079.36 L261.16,1077.58 L261.20,1075.80 L261.24,1074.02 L261.28,1072.25 L261.32,1070.48 L261.36,1068.71 L261.40,1066.94 L261.44,1065.18 L261.48,1063.42 L261.52,1061.67 L261.56,1059.92 L261.60,1058.17 L261.64,1056.43 L261.68,1054.69 L261.72,1052.95 L261.76,1051.23 L261.80,1049.50 L261.84,1047.78 L261.88,1046.07 L261.92,1044.36 L261.96,1042.66 L262.00,1040.97 L262.04,1039.28 L262.08,1037.59 L262.12,1035.92 L262.16,1034.25 L262.20,1032.58 L262.24,1030.93 L262.28,1029.28 L262.32,1027.64 L262.36,1026.00 L262.40,1024.38 L262.44,1022.76 L262.48,1021.15 L262.52,1019.55 L262.56,1017.96 L262.60,1016.37 L262.64,1014.80 L262.68,1013.23 L262.72,1011.68 L262.76,1010.13 L262.80,1008.60 L262.84,1007.07 L262.88,1005.55 L262.92,1004.05 L262.96,1002.55 L263.00,1001.07 L263.04,999.59 L263.08,998.13 L263.12,996.68 L263.16,995.24 L263.20,993.81 L263.24,992.39 L263.28,990.99 L263.32,989.60 L263.36,988.22 L263.40,986.85 L263.44,985.50 L263.48,984.15 L263.52,982.83 L263.56,981.51 L263.60,980.21 L263.64,978.92 L263.68,977.65 L263.72,976.39 L263.76,975.14 L263.80,973.91 L263.84,972.70 L263.88,971.50 L263.92,970.31 L263.96,969.14 L264.00,967.98 L264.04,966.85 L264.08,965.72 L264.12,964.61 L264.16,963.52 L264.20,962.45 L264.24,961.39 L264.28,960.35 L264.32,959.32 L264.36,958.31 L264.42,956.84 L264.48,955.40 L264.54,954.00 L264.60,952.64 L264.66,951.32 L264.72,950.05 L264.78,948.82 L264.84,947.63 L264.90,946.49 L264.96,945.39 L265.02,944.34 L265.08,943.33 L265.16,942.06 L265.24,940.87 L265.32,939.77 L265.40,938.76 L265.50,937.62 L265.62,936.45 L265.76,935.34 L265.96,934.26 L266.20,933.80" stroke-dasharray="33.70 11.20 9.71 11.20" stroke-dashoffset="9.91"/>
<path d="M266.20,933.80 L266.42,934.84 L266.52,935.99 L266.60,937.19 L266.66,938.26 L266.72,939.47 L266.78,940.81 L266.84,942.29 L266.88,943.35 L266.92,944.46 L266.96,945.63 L267.00,946.86 L267.04,948.14 L267.08,949.47 L267.12,950.86 L267.16,952.30 L267.20,953.79 L267.24,955.33 L267.28,956.93 L267.32,958.57 L267.36,960.26 L267.40,962.00 L267.44,963.79 L267.48,965.62 L267.52,967.50 L267.56,969.42 L267.60,971.38 L267.64,973.39 L267.66,974.41 L267.68,975.44 L267.70,976.49 L267.72,977.54 L267.74,978.60 L267.76,979.67 L267.78,980.75 L267.80,981.84 L267.82,982.95 L267.84,984.06 L267.86,985.18 L267.88,986.31 L267.90,987.45 L267.92,988.60 L267.94,989.76 L267.96,990.92 L267.98,992.10 L268.00,993.28 L268.02,994.48 L268.04,995.68 L268.06,996.89 L268.08,998.11 L268.10,999.34 L268.12,1000.58 L268.14,1001.82 L268.16,1003.08 L268.18,1004.34 L268.20,1005.61 L268.22,1006.88 L268.24,1008.17 L268.26,1009.46 L268.28,1010.76 L268.30,1012.07 L268.32,1013.38 L268.34,1014.70 L268.36,1016.03 L268.38,1017.37 L268.40,1018.71 L268.42,1020.06 L268.44,1021.42 L268.46,1022.78 L268.48,1024.15 L268.50,1025.53 L268.52,1026.91 L268.54,1028.30 L268.56,1029.69 L268.58,1031.09 L268.60,1032.50 L268.62,1033.91 L268.64,1035.33 L268.66,1036.76 L268.68,1038.19 L268.70,1039.62 L268.72,1041.06 L268.74,1042.51 L268.76,1043.96 L268.78,1045.42 L268.80,1046.88 L268.82,1048.34 L268.84,1049.81 L268.86,1051.29 L268.88,1052.77 L268.90,1054.26 L268.92,1055.75 L268.94,1057.24 L268.96,1058.74 L268.98,1060.24 L269.00,1061.74 L269.02,1063.25 L269.04,1064.77 L269.06,1066.29 L269.08,1067.81 L269.10,1069.33 L269.12,1070.86 L269.14,1072.39 L269.16,1073.92 L269.18,1075.46 L269.20,1077.00 L269.22,1078.55 L269.24,1080.09 L269.26,1081.64 L269.28,1083.19 L269.30,1084.75 L269.32,1086.31 L269.34,1087.86 L269.36,1089.43 L269.38,1090.99 L269.40,1092.56 L269.42,1094.12 L269.44,1095.69 L269.46,1097.26 L269.48,1098.84 L269.50,1100.41 L269.52,1101.99 L269.54,1103.56 L269.56,1105.14 L269.58,1106.72 L269.60,1108.30 L269.62,1109.89 L269.64,1111.47 L269.66,1113.05 L269.68,1114.64 L269.70,1116.22 L269.72,1117.81 L269.74,1119.39 L269.76,1120.98 L269.78,1122.56 L269.80,1124.15 L269.82,1125.74 L269.84,1127.32 L269.86,1128.91 L269.88,1130.49 L269.90,1132.08 L269.92,1133.66 L269.94,1135.25 L269.96,1136.83 L269.98,1138.41 L270.00,1140.00 L270.02,1141.58 L270.04,1143.16 L270.06,1144.74 L270.08,1146.31 L270.10,1147.89 L270.12,1149.46 L270.14,1151.04 L270.16,1152.61 L270.18,1154.18 L270.20,1155.74 L270.22,1157.31 L270.24,1158.87 L270.26,1160.44 L270.28,1161.99 L270.30,1163.55 L270.32,1165.11 L270.34,1166.66 L270.36,1168.21 L270.38,1169.75 L270.40,1171.30 L270.42,1172.84 L270.44,1174.38 L270.46,1175.91 L270.48,1177.44 L270.50,1178.97 L270.52,1180.49 L270.54,1182.01 L270.56,1183.53 L270.58,1185.05 L270.60,1186.56 L270.62,1188.06 L270.64,1189.56 L270.66,1191.06 L270.68,1192.55 L270.70,1194.04 L270.72,1195.53 L270.74,1197.01 L270.76,1198.49 L270.78,1199.96 L270.80,1201.42 L270.82,1202.88 L270.84,1204.34 L270.86,1205.79 L270.88,1207.24 L270.90,1208.68 L270.92,1210.11 L270.94,1211.54 L270.96,1212.97 L270.98,1214.39 L271.00,1215.80 L271.02,1217.21 L271.04,1218.61 L271.06,1220.00 L271.08,1221.39 L271.10,1222.77 L271.12,1224.15 L271.14,1225.52 L271.16,1226.88 L271.18,1228.24 L271.20,1229.59 L271.22,1230.93 L271.24,1232.27 L271.26,1233.60 L271.28,1234.92 L271.30,1236.23 L271.32,1237.54 L271.34,1238.84 L271.36,1240.13 L271.38,1241.42 L271.40,1242.69 L271.42,1243.96 L271.44,1245.22 L271.46,1246.48 L271.48,1247.72 L271.50,1248.96 L271.52,1250.19 L271.54,1251.41 L271.56,1252.62 L271.58,1253.82 L271.60,1255.02 L271.62,1256.20 L271.64,1257.38 L271.66,1258.54 L271.68,1259.70 L271.70,1260.85 L271.72,1261.99 L271.74,1263.12 L271.76,1264.24 L271.78,1265.35 L271.80,1266.46 L271.82,1267.55 L271.84,1268.63 L271.86,1269.70 L271.88,1270.76 L271.90,1271.81 L271.92,1272.86 L271.94,1273.89 L271.96,1274.91 L271.98,1275.92 L272.02,1277.90 L272.06,1279.85 L272.10,1281.75 L272.14,1283.60 L272.18,1285.41 L272.22,1287.18 L272.26,1288.89 L272.30,1290.56 L272.34,1292.18 L272.38,1293.74 L272.42,1295.26 L272.46,1296.73 L272.50,1298.14 L272.54,1299.50 L272.58,1300.81 L272.62,1302.06 L272.66,1303.26 L272.70,1304.40 L272.74,1305.49 L272.78,1306.52 L272.84,1307.95 L272.90,1309.25 L272.96,1310.41 L273.02,1311.43 L273.10,1312.57 L273.20,1313.64 L273.40,1314.50" stroke-dasharray="32.50 10.80 9.37 10.80" stroke-dashoffset="9.56"/>
<path d="M273.40,1314.50 L273.78,1313.48 L273.94,1312.46 L274.08,1311.30 L274.20,1310.11 L274.30,1308.98 L274.40,1307.74 L274.48,1306.66 L274.56,1305.51 L274.64,1304.29 L274.72,1302.99 L274.78,1301.98 L274.84,1300.93 L274.90,1299.84 L274.96,1298.71 L275.02,1297.55 L275.08,1296.36 L275.14,1295.13 L275.20,1293.86 L275.26,1292.56 L275.32,1291.23 L275.38,1289.87 L275.44,1288.48 L275.50,1287.06 L275.56,1285.60 L275.62,1284.12 L275.66,1283.11 L275.70,1282.10 L275.74,1281.07 L275.78,1280.02 L275.82,1278.97 L275.86,1277.90 L275.90,1276.83 L275.94,1275.74 L275.98,1274.64 L276.02,1273.52 L276.06,1272.40 L276.10,1271.27 L276.14,1270.12 L276.18,1268.97 L276.22,1267.81 L276.26,1266.63 L276.30,1265.45 L276.34,1264.25 L276.38,1263.05 L276.42,1261.84 L276.46,1260.62 L276.50,1259.39 L276.54,1258.15 L276.58,1256.90 L276.62,1255.64 L276.66,1254.38 L276.70,1253.11 L276.74,1251.83 L276.78,1250.54 L276.82,1249.25 L276.86,1247.94 L276.90,1246.64 L276.94,1245.32 L276.98,1244.00 L277.02,1242.67 L277.06,1241.34 L277.10,1240.00 L277.14,1238.65 L277.18,1237.30 L277.22,1235.94 L277.26,1234.58 L277.30,1233.21 L277.34,1231.83 L277.38,1230.46 L277.42,1229.07 L277.46,1227.69 L277.50,1226.30 L277.54,1224.90 L277.58,1223.50 L277.62,1222.10 L277.66,1220.70 L277.70,1219.29 L277.74,1217.88 L277.78,1216.46 L277.82,1215.04 L277.86,1213.62 L277.90,1212.20 L277.94,1210.78 L277.98,1209.35 L278.02,1207.92 L278.06,1206.49 L278.10,1205.06 L278.14,1203.63 L278.18,1202.20 L278.22,1200.76 L278.26,1199.33 L278.30,1197.89 L278.34,1196.46 L278.38,1195.02 L278.42,1193.59 L278.46,1192.15 L278.50,1190.72 L278.54,1189.29 L278.58,1187.85 L278.62,1186.42 L278.66,1184.99 L278.70,1183.56 L278.74,1182.14 L278.78,1180.71 L278.82,1179.29 L278.86,1177.87 L278.90,1176.45 L278.94,1175.03 L278.98,1173.62 L279.02,1172.21 L279.06,1170.80 L279.10,1169.40 L279.14,1168.00 L279.18,1166.60 L279.22,1165.21 L279.26,1163.82 L279.30,1162.43 L279.34,1161.05 L279.38,1159.68 L279.42,1158.31 L279.46,1156.94 L279.50,1155.58 L279.54,1154.23 L279.58,1152.88 L279.62,1151.53 L279.66,1150.20 L279.70,1148.86 L279.74,1147.54 L279.78,1146.22 L279.82,1144.91 L279.86,1143.60 L279.90,1142.31 L279.94,1141.01 L279.98,1139.73 L280.02,1138.46 L280.06,1137.19 L280.10,1135.93 L280.14,1134.68 L280.18,1133.43 L280.22,1132.20 L280.26,1130.97 L280.30,1129.76 L280.34,1128.55 L280.38,1127.35 L280.42,1126.16 L280.46,1124.98 L280.50,1123.81 L280.54,1122.65 L280.58,1121.50 L280.62,1120.36 L280.66,1119.24 L280.70,1118.12 L280.74,1117.01 L280.78,1115.92 L280.82,1114.83 L280.86,1113.76 L280.90,1112.70 L280.94,1111.65 L280.98,1110.62 L281.02,1109.59 L281.06,1108.58 L281.12,1107.09 L281.18,1105.63 L281.24,1104.19 L281.30,1102.79 L281.36,1101.42 L281.42,1100.07 L281.48,1098.77 L281.54,1097.49 L281.60,1096.25 L281.66,1095.04 L281.72,1093.87 L281.78,1092.73 L281.84,1091.63 L281.90,1090.57 L281.96,1089.54 L282.04,1088.23 L282.12,1086.99 L282.20,1085.82 L282.28,1084.72 L282.36,1083.70 L282.46,1082.53 L282.56,1081.47 L282.68,1080.37 L282.82,1079.32 L283.02,1078.26 L283.30,1077.70" stroke-dasharray="30.36 10.09 8.75 10.09" stroke-dashoffset="8.93"/>
<path d="M283.30,1077.70 L283.62,1078.78 L283.76,1079.91 L283.86,1080.94 L283.96,1082.16 L284.04,1083.27 L284.12,1084.49 L284.20,1085.82 L284.26,1086.89 L284.32,1088.02 L284.38,1089.21 L284.44,1090.45 L284.50,1091.75 L284.56,1093.10 L284.62,1094.51 L284.68,1095.96 L284.72,1096.96 L284.76,1097.99 L284.80,1099.03 L284.84,1100.10 L284.88,1101.18 L284.92,1102.29 L284.96,1103.42 L285.00,1104.57 L285.04,1105.74 L285.08,1106.92 L285.12,1108.13 L285.16,1109.36 L285.20,1110.60 L285.24,1111.86 L285.28,1113.14 L285.32,1114.44 L285.36,1115.75 L285.40,1117.08 L285.44,1118.43 L285.48,1119.79 L285.52,1121.17 L285.56,1122.57 L285.60,1123.97 L285.64,1125.40 L285.68,1126.83 L285.72,1128.28 L285.76,1129.75 L285.80,1131.23 L285.84,1132.72 L285.88,1134.22 L285.92,1135.73 L285.96,1137.26 L286.00,1138.80 L286.04,1140.35 L286.08,1141.91 L286.12,1143.47 L286.16,1145.05 L286.20,1146.64 L286.24,1148.24 L286.28,1149.85 L286.32,1151.46 L286.36,1153.09 L286.40,1154.72 L286.44,1156.36 L286.48,1158.01 L286.52,1159.66 L286.56,1161.32 L286.60,1162.98 L286.64,1164.66 L286.68,1166.33 L286.72,1168.01 L286.76,1169.70 L286.80,1171.39 L286.84,1173.09 L286.88,1174.78 L286.92,1176.48 L286.96,1178.19 L287.00,1179.90 L287.04,1181.61 L287.08,1183.32 L287.12,1185.03 L287.16,1186.74 L287.20,1188.46 L287.24,1190.17 L287.28,1191.89 L287.32,1193.60 L287.36,1195.31 L287.40,1197.03 L287.44,1198.74 L287.48,1200.45 L287.52,1202.16 L287.56,1203.86 L287.60,1205.57 L287.64,1207.27 L287.68,1208.96 L287.72,1210.66 L287.76,1212.34 L287.80,1214.03 L287.84,1215.71 L287.88,1217.38 L287.92,1219.05 L287.96,1220.71 L288.00,1222.37 L288.04,1224.02 L288.08,1225.66 L288.12,1227.30 L288.16,1228.92 L288.20,1230.54 L288.24,1232.16 L288.28,1233.76 L288.32,1235.35 L288.36,1236.94 L288.40,1238.51 L288.44,1240.08 L288.48,1241.63 L288.52,1243.17 L288.56,1244.71 L288.60,1246.23 L288.64,1247.73 L288.68,1249.23 L288.72,1250.71 L288.76,1252.19 L288.80,1253.64 L288.84,1255.09 L288.88,1256.52 L288.92,1257.93 L288.96,1259.33 L289.00,1260.72 L289.04,1262.09 L289.08,1263.44 L289.12,1264.78 L289.16,1266.11 L289.20,1267.41 L289.24,1268.70 L289.28,1269.97 L289.32,1271.22 L289.36,1272.46 L289.40,1273.67 L289.44,1274.87 L289.48,1276.05 L289.52,1277.21 L289.56,1278.35 L289.60,1279.47 L289.64,1280.56 L289.68,1281.64 L289.72,1282.69 L289.76,1283.73 L289.80,1284.74 L289.86,1286.21 L289.92,1287.64 L289.98,1289.01 L290.04,1290.32 L290.10,1291.59 L290.16,1292.79 L290.22,1293.94 L290.28,1295.03 L290.34,1296.05 L290.42,1297.33 L290.50,1298.50 L290.58,1299.55 L290.68,1300.69 L290.80,1301.82 L290.96,1302.89 L291.20,1303.50" stroke-dasharray="36.19 12.03 10.43 12.03" stroke-dashoffset="10.64"/>
<path d="M291.20,1303.50 L291.54,1302.44 L291.68,1301.41 L291.80,1300.27 L291.90,1299.14 L291.98,1298.12 L292.06,1297.01 L292.14,1295.81 L292.22,1294.51 L292.28,1293.48 L292.34,1292.39 L292.40,1291.27 L292.46,1290.09 L292.52,1288.87 L292.58,1287.60 L292.64,1286.28 L292.70,1284.93 L292.76,1283.53 L292.82,1282.09 L292.88,1280.62 L292.92,1279.61 L292.96,1278.59 L293.00,1277.54 L293.04,1276.49 L293.08,1275.41 L293.12,1274.33 L293.16,1273.22 L293.20,1272.10 L293.24,1270.97 L293.28,1269.82 L293.32,1268.66 L293.36,1267.48 L293.40,1266.29 L293.44,1265.09 L293.48,1263.88 L293.52,1262.65 L293.56,1261.41 L293.60,1260.15 L293.64,1258.89 L293.68,1257.61 L293.72,1256.33 L293.76,1255.03 L293.80,1253.72 L293.84,1252.40 L293.88,1251.08 L293.92,1249.74 L293.96,1248.39 L294.00,1247.04 L294.04,1245.67 L294.08,1244.30 L294.12,1242.92 L294.16,1241.54 L294.20,1240.14 L294.24,1238.74 L294.28,1237.33 L294.32,1235.92 L294.36,1234.50 L294.40,1233.07 L294.44,1231.64 L294.48,1230.20 L294.52,1228.76 L294.56,1227.31 L294.60,1225.86 L294.64,1224.41 L294.68,1222.95 L294.72,1221.49 L294.76,1220.02 L294.80,1218.56 L294.84,1217.09 L294.88,1215.61 L294.92,1214.14 L294.96,1212.67 L295.00,1211.19 L295.04,1209.72 L295.08,1208.24 L295.12,1206.76 L295.16,1205.28 L295.20,1203.81 L295.24,1202.33 L295.28,1200.86 L295.32,1199.39 L295.36,1197.91 L295.40,1196.44 L295.44,1194.98 L295.48,1193.51 L295.52,1192.05 L295.56,1190.59 L295.60,1189.14 L295.64,1187.69 L295.68,1186.24 L295.72,1184.80 L295.76,1183.36 L295.80,1181.93 L295.84,1180.50 L295.88,1179.08 L295.92,1177.67 L295.96,1176.26 L296.00,1174.86 L296.04,1173.46 L296.08,1172.08 L296.12,1170.70 L296.16,1169.33 L296.20,1167.96 L296.24,1166.61 L296.28,1165.26 L296.32,1163.92 L296.36,1162.60 L296.40,1161.28 L296.44,1159.97 L296.48,1158.67 L296.52,1157.39 L296.56,1156.11 L296.60,1154.85 L296.64,1153.59 L296.68,1152.35 L296.72,1151.12 L296.76,1149.91 L296.80,1148.71 L296.84,1147.52 L296.88,1146.34 L296.92,1145.18 L296.96,1144.03 L297.00,1142.90 L297.04,1141.78 L297.08,1140.67 L297.12,1139.59 L297.16,1138.51 L297.20,1137.46 L297.24,1136.41 L297.28,1135.39 L297.32,1134.38 L297.38,1132.91 L297.44,1131.47 L297.50,1130.07 L297.56,1128.72 L297.62,1127.40 L297.68,1126.13 L297.74,1124.91 L297.80,1123.73 L297.86,1122.61 L297.92,1121.52 L297.98,1120.49 L298.06,1119.19 L298.14,1117.99 L298.22,1116.88 L298.30,1115.86 L298.40,1114.73 L298.52,1113.59 L298.66,1112.56 L298.92,1111.56 L299.00,1111.50" stroke-dasharray="34.02 11.31 9.80 11.31" stroke-dashoffset="24.01"/>
<path d="M299.00,1111.50 L299.52,1112.52 L299.74,1113.53 L299.92,1114.60 L300.08,1115.73 L300.22,1116.84 L300.34,1117.89 L300.46,1119.03 L300.56,1120.03 L300.66,1121.09 L300.76,1122.21 L300.86,1123.37 L300.96,1124.59 L301.04,1125.60 L301.12,1126.63 L301.20,1127.70 L301.28,1128.80 L301.36,1129.92 L301.44,1131.08 L301.52,1132.26 L301.60,1133.46 L301.68,1134.69 L301.76,1135.95 L301.84,1137.23 L301.92,1138.53 L302.00,1139.85 L302.06,1140.86 L302.12,1141.87 L302.18,1142.90 L302.24,1143.94 L302.30,1145.00 L302.36,1146.06 L302.42,1147.13 L302.48,1148.21 L302.54,1149.30 L302.60,1150.40 L302.66,1151.51 L302.72,1152.63 L302.78,1153.75 L302.84,1154.89 L302.90,1156.03 L302.96,1157.18 L303.02,1158.33 L303.08,1159.49 L303.14,1160.66 L303.20,1161.84 L303.26,1163.02 L303.32,1164.20 L303.38,1165.39 L303.44,1166.58 L303.50,1167.78 L303.56,1168.99 L303.62,1170.19 L303.68,1171.40 L303.74,1172.61 L303.80,1173.83 L303.86,1175.05 L303.92,1176.27 L303.98,1177.49 L304.04,1178.71 L304.10,1179.94 L304.16,1181.16 L304.22,1182.39 L304.28,1183.61 L304.34,1184.84 L304.40,1186.06 L304.46,1187.29 L304.52,1188.51 L304.58,1189.73 L304.64,1190.95 L304.70,1192.17 L304.76,1193.39 L304.82,1194.60 L304.88,1195.81 L304.94,1197.01 L305.00,1198.22 L305.06,1199.42 L305.12,1200.61 L305.18,1201.80 L305.24,1202.98 L305.30,1204.16 L305.36,1205.34 L305.42,1206.51 L305.48,1207.67 L305.54,1208.82 L305.60,1209.97 L305.66,1211.11 L305.72,1212.25 L305.78,1213.37 L305.84,1214.49 L305.90,1215.60 L305.96,1216.70 L306.02,1217.79 L306.08,1218.87 L306.14,1219.94 L306.20,1221.00 L306.26,1222.06 L306.32,1223.10 L306.38,1224.13 L306.44,1225.14 L306.50,1226.15 L306.58,1227.47 L306.66,1228.77 L306.74,1230.05 L306.82,1231.31 L306.90,1232.54 L306.98,1233.74 L307.06,1234.92 L307.14,1236.08 L307.22,1237.20 L307.30,1238.30 L307.38,1239.37 L307.46,1240.40 L307.54,1241.41 L307.64,1242.63 L307.74,1243.79 L307.84,1244.91 L307.94,1245.97 L308.04,1246.97 L308.16,1248.11 L308.28,1249.16 L308.42,1250.27 L308.58,1251.40 L308.76,1252.47 L308.98,1253.48 L309.44,1254.49 L309.50,1254.50" stroke-dasharray="34.99 11.63 10.08 11.63" stroke-dashoffset="17.49"/>
<path d="M309.50,1254.50 L310.02,1252.94 L310.24,1251.39 L310.42,1249.76 L310.58,1248.05 L310.72,1246.36 L310.84,1244.78 L310.96,1243.08 L311.06,1241.57 L311.16,1239.99 L311.26,1238.33 L311.36,1236.60 L311.46,1234.79 L311.56,1232.93 L311.64,1231.38 L311.72,1229.80 L311.80,1228.19 L311.88,1226.53 L311.96,1224.84 L312.04,1223.11 L312.12,1221.36 L312.20,1219.57 L312.28,1217.75 L312.36,1215.90 L312.44,1214.03 L312.52,1212.13 L312.60,1210.20 L312.68,1208.26 L312.76,1206.29 L312.84,1204.30 L312.90,1202.80 L312.96,1201.29 L313.02,1199.76 L313.08,1198.23 L313.14,1196.69 L313.20,1195.15 L313.26,1193.59 L313.32,1192.03 L313.38,1190.47 L313.44,1188.90 L313.50,1187.32 L313.56,1185.74 L313.62,1184.16 L313.68,1182.58 L313.74,1180.99 L313.80,1179.40 L313.86,1177.81 L313.92,1176.22 L313.98,1174.63 L314.04,1173.04 L314.10,1171.45 L314.16,1169.87 L314.22,1168.28 L314.28,1166.70 L314.34,1165.13 L314.40,1163.55 L314.46,1161.99 L314.52,1160.43 L314.58,1158.87 L314.64,1157.32 L314.70,1155.78 L314.76,1154.25 L314.82,1152.72 L314.88,1151.20 L314.94,1149.70 L315.02,1147.70 L315.10,1145.73 L315.18,1143.78 L315.26,1141.85 L315.34,1139.94 L315.42,1138.06 L315.50,1136.21 L315.58,1134.38 L315.66,1132.59 L315.74,1130.82 L315.82,1129.09 L315.90,1127.39 L315.98,1125.72 L316.06,1124.10 L316.14,1122.51 L316.22,1120.96 L316.30,1119.45 L316.40,1117.62 L316.50,1115.86 L316.60,1114.17 L316.70,1112.55 L316.80,1111.01 L316.92,1109.27 L317.04,1107.65 L317.18,1105.92 L317.32,1104.36 L317.48,1102.80 L317.68,1101.21 L317.96,1099.68 L318.98,1099.93 L319.42,1101.44 L319.76,1103.03 L320.04,1104.58 L320.30,1106.21 L320.52,1107.71 L320.74,1109.32 L320.94,1110.86 L321.14,1112.47 L321.32,1113.97 L321.50,1115.51 L321.68,1117.10 L321.86,1118.71 L322.04,1120.36 L322.22,1122.02 L322.40,1123.70 L322.56,1125.21 L322.72,1126.72 L322.88,1128.23 L323.04,1129.73 L323.22,1131.42 L323.40,1133.09 L323.58,1134.74 L323.76,1136.37 L323.94,1137.96 L324.12,1139.52 L324.30,1141.04 L324.50,1142.67 L324.70,1144.23 L324.92,1145.86 L325.14,1147.39 L325.38,1148.93 L325.64,1150.44 L325.94,1151.95 L326.32,1153.47 L327.08,1154.97 L327.90,1153.43 L328.20,1151.89 L328.44,1150.32 L328.64,1148.81 L328.82,1147.31 L329.00,1145.67 L329.16,1144.12 L329.32,1142.48 L329.46,1140.98 L329.60,1139.42 L329.74,1137.81 L329.88,1136.16 L330.02,1134.46 L330.16,1132.73 L330.28,1131.22 L330.40,1129.69 L330.52,1128.14 L330.64,1126.58 L330.76,1125.00 L330.88,1123.42 L331.00,1121.83 L331.12,1120.23 L331.24,1118.64 L331.36,1117.06 L331.48,1115.47 L331.60,1113.90 L331.72,1112.34 L331.84,1110.80 L331.96,1109.27 L332.08,1107.77 L332.22,1106.05 L332.36,1104.36 L332.50,1102.72 L332.64,1101.13 L332.78,1099.59 L332.94,1097.90 L333.10,1096.29 L333.26,1094.77 L333.44,1093.18 L333.64,1091.56 L333.86,1089.99 L334.12,1088.44 L334.48,1086.88 L335.50,1086.37 L336.16,1087.88 L336.60,1089.44 L336.96,1090.99 L337.28,1092.56 L337.58,1094.16 L337.86,1095.75 L338.12,1097.30 L338.38,1098.90 L338.62,1100.42 L338.86,1101.96 L339.10,1103.52 L339.34,1105.09 L339.58,1106.65 L339.82,1108.20 L340.06,1109.72 L340.32,1111.34 L340.58,1112.90 L340.86,1114.51 L341.14,1116.03 L341.44,1117.53 L341.78,1119.07 L342.18,1120.60 L342.72,1122.12 L343.74,1122.93 L344.66,1121.41 L345.16,1119.87 L345.56,1118.32 L345.92,1116.74 L346.24,1115.18 L346.54,1113.63 L346.82,1112.09 L347.10,1110.50 L347.36,1108.98 L347.62,1107.42 L347.88,1105.84 L348.14,1104.24 L348.40,1102.63 L348.66,1101.03 L348.92,1099.44 L349.18,1097.88 L349.44,1096.35 L349.72,1094.74 L350.00,1093.20 L350.30,1091.62 L350.62,1090.05 L350.96,1088.51 L351.34,1087.00 L351.80,1085.48 L352.48,1083.97 L353.50,1084.16 L353.86,1085.76 L354.12,1087.38 L354.34,1089.01 L354.54,1090.66 L354.72,1092.25 L354.90,1093.91 L355.06,1095.43 L355.22,1096.97 L355.38,1098.53 L355.54,1100.07 L355.70,1101.59 L355.88,1103.25 L356.06,1104.84 L356.26,1106.49 L356.48,1108.12 L356.72,1109.63 L357.06,1111.20 L358.08,1111.80 L359.10,1110.57 L359.84,1109.07 L360.44,1107.52 L360.96,1105.99 L361.44,1104.43 L361.88,1102.90 L362.30,1101.37 L362.70,1099.85 L363.10,1098.28 L363.48,1096.77 L363.86,1095.24 L364.24,1093.70 L364.62,1092.16 L365.00,1090.63 L365.38,1089.13 L365.78,1087.58 L365.80,1087.50" stroke-dashoffset="24.00"/>
<path d="M365.80,1087.50 L366.16,1085.98 L366.48,1084.40 L366.76,1082.87 L367.02,1081.34 L367.28,1079.72 L367.52,1078.16 L367.76,1076.54 L367.98,1075.02 L368.20,1073.48 L368.42,1071.91 L368.64,1070.34 L368.86,1068.77 L369.08,1067.20 L369.30,1065.66 L369.52,1064.14 L369.76,1062.52 L370.00,1060.96 L370.26,1059.34 L370.52,1057.81 L370.80,1056.28 L371.12,1054.70 L371.48,1053.18 L371.96,1051.63 L372.98,1050.54 L373.92,1052.06 L374.44,1053.62 L374.86,1055.14 L375.24,1056.65 L375.60,1058.15 L375.96,1059.68 L376.32,1061.19 L376.70,1062.71 L377.12,1064.25 L377.62,1065.79 L378.42,1067.30 L379.24,1065.77 L379.42,1064.25 L379.58,1062.62 L379.72,1061.03 L379.86,1059.34 L380.00,1057.59 L380.12,1056.08 L380.26,1054.33 L380.40,1052.66 L380.54,1051.09 L380.70,1049.50 L380.90,1047.90 L381.00,1047.30" stroke-dasharray="34 11.3 9.8 1000"/>
<path d="M381.00,1047.30 L381.30,1045.75 L381.62,1044.17 L381.94,1042.65 L382.28,1041.10 L382.64,1039.53 L383.02,1037.95 L383.40,1036.45 L383.80,1034.95 L384.22,1033.45 L384.68,1031.89 L385.16,1030.36 L385.66,1028.84 L386.20,1027.29 L386.76,1025.77 L387.34,1024.27 L387.96,1022.74 L388.60,1021.20 L389.26,1019.66 L389.92,1018.13 L390.58,1016.59 L391.22,1015.06 L391.80,1013.50 L392.38,1011.96 L393.06,1010.44 L394.08,1009.51 L395.10,1010.87 L395.82,1012.37 L396.84,1013.50 L397.86,1012.54 L398.64,1011.03 L399.34,1009.52 L400.08,1008.01 L400.70,1006.46 L401.24,1004.91 L401.74,1003.37 L402.22,1001.84 L402.70,1000.30 L403.20,998.75 L403.72,997.24 L404.32,995.71 L405.10,994.19 L406.12,993.31 L406.20,993.30" stroke-dasharray="34 11.3 9.8 1000"/>
<path d="M406.20,993.30 L407.22,993.48 L408.24,993.93 L409.26,994.53 L410.28,995.16 L411.30,995.68 L412.32,995.97 L413.34,995.57 L414.18,994.05 L414.82,992.53 L415.48,990.99 L416.32,989.48 L417.26,987.96 L418.26,986.45 L419.28,985.21 L420.30,984.32 L421.32,983.56 L422.34,982.89 L423.36,982.30 L424.38,981.77 L425.40,981.28 L426.42,980.80 L427.44,980.29 L428.46,979.83 L429.48,979.54 L430.50,979.57 L431.52,980.03 L432.54,980.69 L433.56,981.27 L434.58,981.50 L435.60,981.39 L436.62,981.11 L437.64,980.68 L438.66,980.14 L439.68,979.50 L440.70,978.81 L441.72,978.09 L442.74,977.36 L443.76,976.66 L444.78,976.01 L445.80,975.43 L446.82,974.97 L447.84,974.64 L448.86,974.41 L449.88,974.21 L450.90,974.01 L451.92,973.83 L452.94,973.66 L453.96,973.50 L454.98,973.35 L456.00,973.21 L457.02,973.08 L458.04,972.95 L459.06,972.84 L460.08,972.73 L461.10,972.63 L462.12,972.54 L463.14,972.45 L463.80,972.40" stroke-dasharray="34 11.3 9.8 1000"/>
<path d="M463.80,972.40 L464.82,972.32 L465.84,972.23 L466.86,972.15 L467.88,972.07 L468.90,972.00 L469.92,971.93 L470.94,971.86 L471.96,971.81 L472.98,971.76 L474.00,971.73 L475.02,971.71 L476.04,971.70 L477.06,971.70 L478.08,971.71 L479.10,971.73 L480.12,971.75 L481.14,971.78 L482.16,971.82 L483.18,971.86 L484.20,971.90 L485.22,971.95 L486.24,972.00 L487.26,972.06 L488.28,972.12 L489.30,972.19 L490.32,972.25 L491.34,972.32 L492.36,972.40 L493.38,972.47 L494.40,972.55 L495.42,972.63 L496.44,972.71 L497.46,972.79 L498.48,972.88 L499.50,973.00 L500.52,973.14 L501.54,973.31 L502.56,973.48 L503.58,973.67 L504.60,973.87 L505.62,974.07 L506.64,974.28 L507.66,974.47 L508.68,974.67 L509.70,974.85 L510.72,975.02 L511.74,975.17 L512.76,975.30 L513.78,975.41 L514.80,975.50 L515.82,975.60 L516.84,975.68 L517.86,975.76 L518.88,975.83 L519.90,975.90 L520.92,975.97 L521.94,976.04 L522.96,976.12 L523.98,976.19 L525.00,976.27 L526.02,976.36 L527.04,976.45 L528.06,976.56 L529.08,976.67 L529.30,976.70" stroke-dasharray="34 11.3 9.8 1000"/>
<path d="M529.30,976.70 L530.32,976.84 L531.34,977.02 L532.36,977.24 L533.38,977.48 L534.40,977.75 L535.42,978.03 L536.44,978.33 L537.46,978.65 L538.48,978.97 L539.50,979.29 L540.52,979.61 L541.54,979.92 L542.56,980.23 L543.58,980.52 L544.60,980.79 L545.62,981.04 L546.64,981.26 L547.66,981.45 L548.68,981.60 L549.70,981.71 L550.72,981.78 L551.74,981.80 L552.76,981.79 L553.78,981.76 L554.80,981.72 L555.82,981.67 L556.84,981.60 L557.86,981.51 L558.88,981.19 L559.90,980.43 L560.92,979.50 L561.94,978.67 L562.96,978.22 L563.98,978.42 L565.00,979.29 L566.02,980.65 L566.94,982.17 L567.78,983.69 L568.60,985.19 L569.46,986.70 L570.46,988.22 L571.48,989.41 L572.50,990.56 L573.52,991.75 L574.54,992.94 L575.56,994.09 L576.58,995.18 L577.60,996.15 L578.62,996.99 L579.64,997.65 L580.66,998.10 L581.68,998.29 L581.90,998.30" stroke-dasharray="34 11.3 9.8 1000"/>
<path d="M581.90,998.30 L582.92,998.14 L583.94,997.70 L584.96,997.10 L585.98,996.41 L587.00,995.74 L588.02,995.17 L589.04,994.79 L590.06,994.71 L591.08,995.01 L592.10,995.64 L593.12,996.54 L594.14,997.63 L595.16,998.84 L596.18,1000.10 L597.20,1001.34 L598.22,1002.49 L599.24,1003.48 L600.26,1004.24 L601.28,1004.70 L602.30,1004.80 L603.32,1004.80 L604.34,1004.80 L605.36,1004.80 L606.38,1004.80 L607.40,1004.80 L608.42,1004.80 L609.44,1004.80 L610.46,1004.80 L611.48,1004.80 L612.50,1004.80 L613.52,1004.80 L614.54,1004.88 L615.56,1005.12 L616.58,1005.51 L617.60,1006.02 L618.62,1006.62 L619.64,1007.31 L620.66,1008.05 L621.68,1008.83 L622.70,1009.62 L623.72,1010.39 L624.74,1011.13 L625.76,1011.82 L626.78,1012.43 L627.80,1012.95 L628.82,1013.45 L629.84,1013.95 L630.86,1014.44 L631.88,1014.92 L632.90,1015.39 L633.92,1015.85 L634.94,1016.31 L635.96,1016.75 L636.98,1017.19 L638.00,1017.61 L639.02,1018.02 L640.04,1018.41 L641.06,1018.79 L642.08,1019.16 L642.20,1019.20" stroke-dasharray="34 11.3 9.8 1000"/>
<path d="M642.20,1019.20 L643.22,1019.55 L644.24,1019.90 L645.26,1020.24 L646.28,1020.58 L647.30,1020.90 L648.32,1021.21 L649.34,1021.51 L650.36,1021.80 L651.38,1022.08 L652.40,1022.34 L653.42,1022.58 L654.44,1022.81 L655.46,1023.03 L656.48,1023.24 L657.50,1023.44 L658.52,1023.64 L659.54,1023.84 L660.56,1024.03 L661.58,1024.21 L662.60,1024.39 L663.62,1024.56 L664.64,1024.73 L665.66,1024.89 L666.68,1025.05 L667.70,1025.20 L668.72,1025.35 L669.74,1025.49 L670.76,1025.63 L671.78,1025.76 L672.80,1025.89 L673.82,1026.01 L674.84,1026.13 L675.86,1026.25 L676.88,1026.37 L677.90,1026.50 L678.92,1026.62 L679.94,1026.75 L680.96,1026.86 L681.98,1026.98 L683.00,1027.08 L684.02,1027.17 L685.04,1027.25 L686.06,1027.31 L687.08,1027.36 L688.10,1027.39 L689.12,1027.40 L690.14,1027.39 L691.16,1027.37 L692.18,1027.34 L693.20,1027.30 L694.22,1027.25 L695.24,1027.20 L696.26,1027.15 L697.28,1027.09 L698.30,1027.04 L699.32,1027.00 L700.34,1026.96 L701.36,1026.93 L702.38,1026.91 L703.40,1026.90" stroke-dasharray="34 11.3 9.8 1000"/>
<path d="M703.40,1026.90 L704.42,1027.01 L705.44,1027.30 L706.46,1027.68 L707.48,1028.07 L708.50,1028.40 L709.52,1028.58 L710.54,1028.50 L711.56,1028.00 L712.58,1027.22 L713.60,1026.31 L714.62,1025.43 L715.64,1024.71 L716.66,1024.33 L717.68,1024.35 L718.70,1024.58 L719.72,1024.97 L720.74,1025.45 L721.76,1025.98 L722.78,1026.51 L723.80,1026.98 L724.82,1027.35 L725.84,1027.57 L726.86,1027.59 L727.88,1027.49 L728.90,1027.32 L729.92,1027.10 L730.94,1026.87 L731.96,1026.65 L732.98,1026.49 L734.00,1026.41 L735.02,1026.42 L736.04,1026.51 L737.06,1026.67 L738.08,1026.89 L739.10,1027.16 L740.12,1027.47 L741.14,1027.82 L742.16,1028.19 L743.18,1028.59 L744.20,1028.99 L745.22,1029.40 L746.24,1029.80 L747.26,1030.19 L748.28,1030.56 L749.30,1030.91 L750.32,1031.30 L751.34,1031.72 L752.36,1032.18 L753.38,1032.65 L754.40,1033.13 L755.42,1033.61 L756.44,1034.09 L757.46,1034.54 L758.48,1034.98 L759.50,1035.38 L760.52,1035.73 L761.54,1036.04 L762.56,1036.28 L763.58,1036.46 L763.90,1036.50" stroke-dasharray="34 11.3 9.8 1000"/>
<path d="M763.90,1036.50 L764.92,1036.60 L765.94,1036.68 L766.96,1036.74 L767.98,1036.80 L769.00,1036.84 L770.02,1036.89 L771.04,1036.95 L772.06,1037.02 L773.08,1037.11 L774.10,1037.23 L775.12,1037.49 L776.14,1037.92 L777.16,1038.48 L778.18,1039.14 L779.20,1039.87 L780.22,1040.62 L781.24,1041.37 L782.26,1042.09 L783.28,1042.73 L784.30,1043.26 L785.32,1043.65 L786.34,1043.91 L787.36,1044.13 L788.38,1044.31 L789.40,1044.47 L790.42,1044.62 L791.44,1044.77 L792.46,1044.93 L793.48,1045.11 L794.50,1045.33 L795.52,1045.59 L796.54,1045.91 L797.56,1046.28 L798.58,1046.69 L799.60,1047.13 L800.62,1047.59 L801.64,1048.07 L802.66,1048.56 L803.68,1049.05 L804.70,1049.54 L805.72,1050.00 L806.74,1050.44 L807.76,1050.85 L808.78,1051.22 L809.80,1051.54 L810.82,1051.82 L811.84,1052.09 L812.86,1052.34 L813.88,1052.58 L814.90,1052.81 L815.92,1053.03 L816.94,1053.25 L817.96,1053.45 L818.98,1053.65 L820.00,1053.85 L821.02,1054.04 L822.04,1054.22 L823.06,1054.41 L824.08,1054.59 L825.10,1054.77 L825.80,1054.90" stroke-dasharray="34 11.3 9.8 1000"/>
<path d="M825.80,1054.90 L826.82,1055.09 L827.84,1055.27 L828.86,1055.46 L829.88,1055.65 L830.90,1055.84 L831.92,1056.02 L832.94,1056.21 L833.96,1056.38 L834.98,1056.55 L836.00,1056.71 L837.02,1056.86 L838.04,1057.01 L839.06,1057.14 L840.08,1057.25 L841.10,1057.36 L842.12,1057.44 L843.14,1057.52 L844.16,1057.60 L845.18,1057.67 L846.20,1057.73 L847.22,1057.79 L848.24,1057.84 L849.26,1057.90 L850.28,1057.95 L851.30,1058.00 L852.32,1058.05 L853.34,1058.10 L854.36,1058.15 L855.38,1058.20 L856.40,1058.25 L857.42,1058.31 L858.44,1058.37 L859.46,1058.44 L860.48,1058.50 L861.50,1058.56 L862.52,1058.62 L863.54,1058.68 L864.56,1058.74 L865.58,1058.80 L866.60,1058.87 L867.62,1058.93 L868.64,1059.00 L869.66,1059.07 L870.68,1059.15 L871.70,1059.23 L872.72,1059.31 L873.74,1059.40 L874.76,1059.50 L875.78,1059.60 L876.80,1059.72 L877.82,1059.84 L878.84,1059.98 L879.86,1060.13 L880.88,1060.29 L881.90,1060.45 L882.92,1060.62 L883.94,1060.79 L884.96,1060.97 L885.98,1061.15 L887.00,1061.33 L888.02,1061.52 L889.04,1061.70 L890.06,1061.88 L891.08,1062.06 L891.30,1062.10" stroke-dasharray="34 11.3 9.8 1000"/>
<path d="M891.30,1062.10 L892.32,1062.28 L893.34,1062.46 L894.36,1062.64 L895.38,1062.83 L896.40,1063.02 L897.42,1063.21 L898.44,1063.40 L899.46,1063.59 L900.48,1063.79 L901.50,1063.99 L902.52,1064.19 L903.54,1064.40 L904.56,1064.61 L905.58,1064.81 L906.60,1065.03 L907.62,1065.24 L908.64,1065.46 L909.66,1065.68 L910.68,1065.90 L911.70,1066.12 L912.72,1066.34 L913.74,1066.57 L914.76,1066.80 L915.78,1067.04 L916.80,1067.28 L917.82,1067.52 L918.84,1067.76 L919.86,1068.01 L920.88,1068.26 L921.90,1068.52 L922.92,1068.78 L923.94,1069.05 L924.96,1069.32 L925.98,1069.61 L927.00,1069.91 L928.02,1070.22 L929.04,1070.53 L930.06,1070.86 L931.08,1071.18 L932.10,1071.51 L933.12,1071.84 L934.14,1072.17 L935.16,1072.49 L936.18,1072.81 L937.20,1073.12 L938.22,1073.42 L939.24,1073.71 L940.26,1074.00 L941.28,1074.28 L942.30,1074.56 L943.32,1074.84 L944.34,1075.12 L945.36,1075.39 L946.38,1075.66 L947.40,1075.93 L948.42,1076.20 L949.44,1076.46 L950.46,1076.72 L951.48,1076.98 L952.50,1077.24 L953.52,1077.50 L954.54,1077.76 L955.56,1078.01 L955.90,1078.10" stroke-dasharray="34 11.3 9.8 1000"/>
<path d="M955.90,1078.10 L956.92,1078.36 L957.94,1078.61 L958.96,1078.87 L959.98,1079.12 L961.00,1079.37 L962.02,1079.63 L963.04,1079.88 L964.06,1080.13 L965.08,1080.37 L966.10,1080.61 L967.12,1080.86 L968.14,1081.09 L969.16,1081.32 L970.18,1081.55 L971.20,1081.78 L972.22,1082.00 L973.24,1082.21 L974.26,1082.41 L975.28,1082.61 L976.30,1082.81 L977.32,1082.99 L978.34,1083.18 L979.36,1083.36 L980.38,1083.53 L981.40,1083.71 L982.42,1083.89 L983.44,1084.06 L984.46,1084.24 L985.48,1084.43 L986.50,1084.61 L987.52,1084.81 L988.54,1085.01 L989.56,1085.21 L990.58,1085.43 L991.60,1085.65 L992.62,1085.87 L993.64,1086.09 L994.66,1086.32 L995.68,1086.56 L996.70,1086.79 L997.72,1087.03 L998.74,1087.27 L999.76,1087.51 L1000.78,1087.75 L1001.80,1087.99 L1002.82,1088.22 L1003.84,1088.46 L1004.86,1088.69 L1005.88,1088.93 L1006.90,1089.17 L1007.92,1089.42 L1008.94,1089.67 L1009.96,1089.93 L1010.98,1090.18 L1012.00,1090.44 L1013.02,1090.69 L1014.04,1090.93 L1015.06,1091.17 L1016.08,1091.41 L1017.10,1091.63 L1018.12,1091.84 L1019.14,1092.03 L1020.16,1092.21 L1020.70,1092.30" stroke-dasharray="34 11.3 9.8 1000"/>
<path d="M1020.70,1092.30 L1021.72,1092.46 L1022.74,1092.61 L1023.76,1092.76 L1024.78,1092.90 L1025.80,1093.03 L1026.82,1093.16 L1027.84,1093.29 L1028.86,1093.41 L1029.88,1093.53 L1030.90,1093.65 L1031.92,1093.76 L1032.94,1093.87 L1033.96,1093.98 L1034.98,1094.09 L1036.00,1094.19 L1037.02,1094.30 L1038.04,1094.40 L1039.06,1094.51 L1040.08,1094.62 L1041.10,1094.72 L1042.12,1094.83 L1043.14,1094.93 L1044.16,1095.03 L1045.18,1095.13 L1046.20,1095.23 L1047.22,1095.33 L1048.24,1095.42 L1049.26,1095.51 L1050.28,1095.59 L1051.30,1095.67 L1052.32,1095.75 L1053.34,1095.82 L1054.36,1095.89 L1055.38,1095.95 L1056.40,1096.00 L1057.42,1096.06 L1058.44,1096.12 L1059.46,1096.17 L1060.48,1096.22 L1061.50,1096.27 L1062.52,1096.32 L1063.54,1096.36 L1064.56,1096.40 L1065.58,1096.44 L1066.60,1096.48 L1067.62,1096.52 L1068.64,1096.55 L1069.66,1096.58 L1070.68,1096.61 L1071.70,1096.63 L1072.72,1096.66 L1073.74,1096.69 L1074.76,1096.71 L1075.78,1096.74 L1076.80,1096.76 L1077.82,1096.78 L1078.84,1096.81 L1079.86,1096.83 L1080.88,1096.84 L1081.90,1096.86 L1082.92,1096.87 L1083.94,1096.89 L1084.96,1096.89 L1085.98,1096.90 L1087.00,1096.90" stroke-dasharray="34 11.3 9.8 1000"/>
<path d="M1087.00,1096.90 L1088.02,1096.90 L1089.04,1096.89 L1090.06,1096.87 L1091.08,1096.85 L1092.10,1096.83 L1093.12,1096.80 L1094.14,1096.77 L1095.16,1096.74 L1096.18,1096.71 L1097.20,1096.69 L1098.22,1096.66 L1099.24,1096.64 L1100.26,1096.62 L1101.28,1096.61 L1102.30,1096.60 L1103.32,1096.60 L1104.34,1096.61 L1105.36,1096.63 L1106.38,1096.66 L1107.40,1096.70 L1108.42,1096.74 L1109.44,1096.79 L1110.46,1096.85 L1111.48,1096.92 L1112.50,1096.99 L1113.52,1097.06 L1114.54,1097.14 L1115.56,1097.22 L1116.58,1097.31 L1117.60,1097.40 L1118.62,1097.50 L1119.64,1097.59 L1120.66,1097.69 L1121.68,1097.80 L1122.70,1097.97 L1123.72,1098.17 L1124.74,1098.40 L1125.76,1098.66 L1126.78,1098.94 L1127.80,1099.22 L1128.82,1099.51 L1129.84,1099.79 L1130.86,1100.05 L1131.88,1100.29 L1132.90,1100.50 L1133.92,1100.68 L1134.94,1100.81 L1135.96,1100.88 L1136.98,1100.90 L1138.00,1100.90 L1139.02,1100.89 L1140.04,1100.89 L1141.06,1100.88 L1142.08,1100.87 L1143.10,1100.85 L1144.12,1100.83 L1145.14,1100.81 L1146.16,1100.79 L1147.18,1100.76 L1148.20,1100.73 L1149.22,1100.70 L1150.24,1100.66 L1151.26,1100.62 L1151.80,1100.60" stroke-dasharray="34 11.3 9.8 1000"/>
<path d="M1151.80,1100.60 L1152.82,1100.45 L1153.84,1100.17 L1154.86,1099.85 L1155.88,1099.59 L1156.90,1099.50 L1157.92,1099.85 L1158.94,1100.71 L1159.96,1101.98 L1160.94,1103.48 L1161.82,1104.99 L1162.66,1106.52 L1163.48,1108.02 L1164.32,1109.53 L1165.22,1111.04 L1166.24,1112.53 L1167.26,1113.69 L1168.28,1114.41 L1169.30,1114.60 L1170.32,1114.57 L1171.34,1114.50 L1172.36,1114.41 L1173.38,1114.30 L1174.40,1114.18 L1175.42,1114.08 L1176.44,1113.99 L1177.46,1113.92 L1178.48,1113.90 L1179.50,1114.12 L1180.52,1114.75 L1181.54,1115.70 L1182.56,1116.89 L1183.58,1118.25 L1184.60,1119.69 L1185.62,1121.14 L1186.64,1122.50 L1187.66,1123.70 L1188.68,1124.67 L1189.70,1125.34 L1190.72,1125.94 L1191.74,1126.54 L1192.76,1127.13 L1193.78,1127.69 L1194.80,1128.24 L1195.82,1128.75 L1196.84,1129.22 L1197.86,1129.65 L1198.88,1130.02 L1199.90,1130.34 L1200.92,1130.59 L1201.94,1130.77 L1202.96,1130.88 L1203.70,1130.90" stroke-dasharray="34 11.3 9.8 1000"/>
<path d="M1203.70,1130.90 L1204.72,1130.87 L1205.74,1130.77 L1206.76,1130.64 L1207.78,1130.48 L1208.80,1130.33 L1209.82,1130.18 L1210.84,1130.07 L1211.86,1130.01 L1212.88,1130.08 L1213.90,1130.50 L1214.92,1131.14 L1215.94,1131.83 L1216.96,1132.37 L1217.98,1132.60 L1219.00,1132.57 L1220.02,1132.48 L1221.04,1132.34 L1222.06,1132.17 L1223.08,1131.98 L1224.10,1131.78 L1225.12,1131.58 L1226.14,1131.39 L1227.16,1131.23 L1228.18,1131.10 L1229.20,1131.02 L1230.22,1131.00 L1231.24,1131.04 L1232.26,1131.11 L1233.28,1131.20 L1234.30,1131.29 L1235.32,1131.36 L1236.34,1131.40 L1237.36,1131.39 L1238.38,1131.34 L1239.40,1131.25 L1240.42,1131.12 L1241.44,1130.98 L1242.46,1130.80 L1243.48,1130.61 L1244.50,1130.41 L1245.52,1130.19 L1246.54,1129.97 L1247.56,1129.76 L1248.58,1129.54 L1249.60,1129.33 L1250.62,1129.14 L1251.64,1128.97 L1252.66,1128.82 L1253.68,1128.68 L1254.70,1128.55 L1255.72,1128.42 L1256.74,1128.29 L1257.76,1128.16 L1258.78,1128.03 L1259.80,1127.91 L1260.82,1127.78 L1261.84,1127.67 L1262.86,1127.55 L1263.88,1127.45 L1264.90,1127.34 L1265.92,1127.25 L1266.94,1127.16 L1267.96,1127.08 L1268.98,1127.00 L1269.00,1127.00" stroke-dasharray="34 11.3 9.8 1000"/>
<path d="M1269.00,1127.00 L1270.02,1126.93 L1271.04,1126.85 L1272.06,1126.78 L1273.08,1126.71 L1274.10,1126.64 L1275.12,1126.58 L1276.14,1126.52 L1277.16,1126.47 L1278.18,1126.44 L1279.20,1126.41 L1280.22,1126.40 L1281.24,1126.40 L1282.26,1126.41 L1283.28,1126.41 L1284.30,1126.42 L1285.32,1126.44 L1286.34,1126.45 L1287.36,1126.47 L1288.38,1126.50 L1289.40,1126.52 L1290.42,1126.55 L1291.44,1126.58 L1292.46,1126.61 L1293.48,1126.64 L1294.50,1126.67 L1295.52,1126.71 L1296.54,1126.75 L1297.56,1126.79 L1298.58,1126.83 L1299.60,1126.87 L1300.62,1126.91 L1301.64,1126.95 L1302.66,1126.99 L1303.68,1127.05 L1304.70,1127.12 L1305.72,1127.21 L1306.74,1127.31 L1307.76,1127.42 L1308.78,1127.54 L1309.80,1127.67 L1310.82,1127.79 L1311.84,1127.91 L1312.86,1128.03 L1313.88,1128.14 L1314.90,1128.23 L1315.92,1128.30 L1316.94,1128.36 L1317.96,1128.39 L1318.98,1128.40 L1320.00,1128.39 L1321.02,1128.38 L1322.04,1128.36 L1323.06,1128.34 L1324.08,1128.31 L1325.10,1128.27 L1326.12,1128.23 L1327.14,1128.18 L1328.16,1128.13 L1329.18,1128.08 L1330.20,1128.02 L1331.22,1127.96 L1332.24,1127.90 L1333.26,1127.83 L1334.28,1127.76 L1335.20,1127.70" stroke-dasharray="34 11.3 9.8 1000"/>
<path d="M1335.20,1127.70 L1336.22,1127.61 L1337.24,1127.50 L1338.26,1127.37 L1339.28,1127.21 L1340.30,1127.03 L1341.32,1126.85 L1342.34,1126.65 L1343.36,1126.44 L1344.38,1126.23 L1345.40,1126.02 L1346.42,1125.81 L1347.44,1125.60 L1348.46,1125.41 L1349.48,1125.22 L1350.50,1125.05 L1351.52,1124.88 L1352.54,1124.71 L1353.56,1124.55 L1354.58,1124.38 L1355.60,1124.22 L1356.62,1124.06 L1357.64,1123.90 L1358.66,1123.74 L1359.68,1123.57 L1360.70,1123.40 L1361.72,1123.24 L1362.74,1123.06 L1363.76,1122.88 L1364.78,1122.70 L1365.80,1122.51 L1366.82,1122.32 L1367.84,1122.11 L1368.86,1121.90 L1369.88,1121.67 L1370.90,1121.42 L1371.92,1121.16 L1372.94,1120.88 L1373.96,1120.60 L1374.98,1120.30 L1376.00,1120.01 L1377.02,1119.72 L1378.04,1119.43 L1379.06,1119.15 L1380.08,1118.87 L1381.10,1118.61 L1382.12,1118.37 L1383.14,1118.15 L1384.16,1117.95 L1385.18,1117.76 L1386.20,1117.58 L1387.22,1117.39 L1388.24,1117.22 L1389.26,1117.05 L1390.28,1116.88 L1391.30,1116.72 L1392.32,1116.56 L1393.34,1116.42 L1394.36,1116.27 L1395.38,1116.14 L1396.40,1116.01 L1397.42,1115.88 L1398.44,1115.76 L1399.46,1115.66 L1400.00,1115.60" stroke-dasharray="34 11.3 9.8 1000"/>
<path d="M1400.00,1115.60 L1401.02,1115.50 L1402.04,1115.39 L1403.06,1115.28 L1404.08,1115.18 L1405.10,1115.07 L1406.12,1114.97 L1407.14,1114.87 L1408.16,1114.78 L1409.18,1114.70 L1410.20,1114.62 L1411.22,1114.55 L1412.24,1114.50 L1413.26,1114.45 L1414.28,1114.42 L1415.30,1114.40 L1416.32,1114.40 L1417.34,1114.42 L1418.36,1114.44 L1419.38,1114.49 L1420.40,1114.54 L1421.42,1114.61 L1422.44,1114.69 L1423.46,1114.78 L1424.48,1114.88 L1425.50,1114.99 L1426.52,1115.11 L1427.54,1115.23 L1428.56,1115.36 L1429.58,1115.50 L1430.60,1115.63 L1431.62,1115.78 L1432.64,1115.92 L1433.66,1116.07 L1434.68,1116.22 L1435.70,1116.41 L1436.72,1116.64 L1437.74,1116.89 L1438.76,1117.17 L1439.78,1117.46 L1440.80,1117.77 L1441.82,1118.10 L1442.84,1118.43 L1443.86,1118.76 L1444.88,1119.10 L1445.90,1119.43 L1446.92,1119.76 L1447.94,1120.08 L1448.96,1120.38 L1449.98,1120.66 L1451.00,1120.95 L1452.02,1121.24 L1453.04,1121.54 L1454.06,1121.83 L1455.08,1122.13 L1456.10,1122.42 L1457.12,1122.72 L1458.14,1123.00 L1459.16,1123.29 L1460.18,1123.56 L1461.20,1123.83 L1462.22,1124.09 L1463.24,1124.34 L1464.26,1124.57 L1465.28,1124.80 L1465.30,1124.80" stroke-dasharray="34 11.3 9.8 1000"/>
<path d="M1465.30,1124.80 L1466.32,1125.02 L1467.34,1125.24 L1468.36,1125.47 L1469.38,1125.69 L1470.40,1125.92 L1471.42,1126.14 L1472.44,1126.35 L1473.46,1126.56 L1474.48,1126.75 L1475.50,1126.94 L1476.52,1127.11 L1477.54,1127.26 L1478.56,1127.40 L1479.58,1127.51 L1480.60,1127.61 L1481.62,1127.68 L1482.64,1127.72 L1483.66,1127.76 L1484.68,1127.80 L1485.70,1127.84 L1486.72,1127.88 L1487.74,1127.91 L1488.76,1127.94 L1489.78,1127.97 L1490.80,1128.00 L1491.82,1128.02 L1492.84,1128.04 L1493.86,1128.06 L1494.88,1128.07 L1495.90,1128.09 L1496.92,1128.09 L1497.94,1128.10 L1498.96,1128.10 L1499.98,1128.08 L1501.00,1128.05 L1502.02,1127.99 L1503.04,1127.92 L1504.06,1127.84 L1505.08,1127.74 L1506.10,1127.63 L1507.12,1127.51 L1508.14,1127.38 L1509.16,1127.24 L1510.18,1127.10 L1511.20,1126.96 L1512.22,1126.81 L1513.24,1126.67 L1514.26,1126.53 L1515.28,1126.39 L1516.30,1126.24 L1517.32,1126.08 L1518.34,1125.91 L1519.36,1125.72 L1520.38,1125.53 L1521.40,1125.33 L1522.42,1125.12 L1523.44,1124.91 L1524.46,1124.69 L1525.48,1124.48 L1526.50,1124.27 L1527.52,1124.05 L1528.54,1123.85 L1529.56,1123.65 L1530.58,1123.46 L1530.90,1123.40" stroke-dasharray="34 11.3 9.8 1000"/>
<path d="M1530.90,1123.40 L1531.92,1123.21 L1532.94,1123.02 L1533.96,1122.83 L1534.98,1122.64 L1536.00,1122.44 L1537.02,1122.25 L1538.04,1122.06 L1539.06,1121.87 L1540.08,1121.69 L1541.10,1121.51 L1542.12,1121.34 L1543.14,1121.17 L1544.16,1121.02 L1545.18,1120.87 L1546.20,1120.74 L1547.22,1120.62 L1548.24,1120.51 L1549.26,1120.39 L1550.28,1120.28 L1551.30,1120.16 L1552.32,1120.05 L1553.34,1119.94 L1554.36,1119.83 L1555.38,1119.73 L1556.40,1119.63 L1557.42,1119.54 L1558.44,1119.46 L1559.46,1119.39 L1560.48,1119.32 L1561.50,1119.27 L1562.52,1119.23 L1563.54,1119.21 L1564.56,1119.20 L1565.58,1119.20 L1566.60,1119.21 L1567.62,1119.21 L1568.64,1119.22 L1569.66,1119.23 L1570.68,1119.25 L1571.70,1119.26 L1572.72,1119.28 L1573.74,1119.30 L1574.76,1119.33 L1575.78,1119.35 L1576.80,1119.38 L1577.82,1119.41 L1578.84,1119.44 L1579.86,1119.47 L1580.88,1119.50 L1581.90,1119.54 L1582.92,1119.61 L1583.94,1119.70 L1584.96,1119.80 L1585.98,1119.92 L1587.00,1120.06 L1588.02,1120.20 L1589.04,1120.36 L1590.06,1120.52 L1591.08,1120.68 L1592.10,1120.84 L1593.12,1121.01 L1594.14,1121.17 L1595.16,1121.33 L1596.18,1121.47 L1597.10,1121.60" stroke-dasharray="34 11.3 9.8 1000"/>
<path d="M1597.10,1121.60 L1598.12,1121.73 L1599.14,1121.87 L1600.16,1122.01 L1601.18,1122.14 L1602.20,1122.28 L1603.22,1122.42 L1604.24,1122.55 L1605.26,1122.69 L1606.28,1122.83 L1607.30,1122.96 L1608.32,1123.10 L1609.34,1123.23 L1610.36,1123.37 L1611.38,1123.50 L1612.40,1123.63 L1613.42,1123.76 L1614.44,1123.89 L1615.46,1124.02 L1616.48,1124.15 L1617.50,1124.28 L1618.52,1124.41 L1619.54,1124.54 L1620.56,1124.67 L1621.58,1124.80 L1622.60,1124.93 L1623.62,1125.05 L1624.64,1125.17 L1625.66,1125.30 L1626.68,1125.42 L1627.70,1125.53 L1628.72,1125.65 L1629.74,1125.76 L1630.76,1125.87 L1631.78,1125.99 L1632.80,1126.10 L1633.82,1126.23 L1634.84,1126.36 L1635.86,1126.49 L1636.88,1126.62 L1637.90,1126.74 L1638.92,1126.86 L1639.94,1126.98 L1640.96,1127.08 L1641.98,1127.18 L1643.00,1127.26 L1644.02,1127.32 L1645.04,1127.37 L1646.06,1127.39 L1647.08,1127.40 L1648.10,1127.40 L1649.12,1127.40 L1650.14,1127.40 L1651.16,1127.40 L1652.18,1127.40 L1653.20,1127.40 L1654.22,1127.40 L1655.24,1127.40 L1656.26,1127.40 L1657.28,1127.40 L1658.30,1127.40 L1659.32,1127.40 L1660.34,1127.40 L1661.36,1127.40 L1662.38,1127.40 L1663.10,1127.40" stroke-dasharray="34 11.3 9.8 1000"/>
<path d="M1663.10,1127.40 L1664.12,1127.40 L1665.14,1127.38 L1666.16,1127.36 L1667.18,1127.33 L1668.20,1127.30 L1669.22,1127.26 L1670.24,1127.22 L1671.26,1127.17 L1672.28,1127.12 L1673.30,1127.06 L1674.32,1127.01 L1675.34,1126.95 L1676.36,1126.89 L1677.38,1126.84 L1678.40,1126.78 L1679.42,1126.73 L1680.44,1126.68 L1681.46,1126.63 L1682.48,1126.58 L1683.50,1126.53 L1684.52,1126.48 L1685.54,1126.42 L1686.56,1126.37 L1687.58,1126.32 L1688.60,1126.26 L1689.62,1126.20 L1690.64,1126.14 L1691.66,1126.08 L1692.68,1126.01 L1693.70,1125.94 L1694.72,1125.87 L1695.74,1125.80 L1696.76,1125.72 L1697.78,1125.64 L1698.80,1125.55 L1699.82,1125.45 L1700.84,1125.34 L1701.86,1125.23 L1702.88,1125.11 L1703.90,1124.99 L1704.92,1124.86 L1705.94,1124.74 L1706.96,1124.60 L1707.98,1124.47 L1709.00,1124.34 L1710.02,1124.20 L1711.04,1124.07 L1712.06,1123.93 L1713.08,1123.80 L1714.10,1123.67 L1715.12,1123.54 L1716.14,1123.40 L1717.16,1123.26 L1718.18,1123.13 L1719.20,1122.98 L1720.22,1122.84 L1721.24,1122.70 L1722.26,1122.55 L1723.28,1122.41 L1724.30,1122.26 L1725.32,1122.12 L1726.34,1121.97 L1727.36,1121.82 L1728.38,1121.68 L1728.90,1121.60" stroke-dasharray="34 11.3 9.8 1000"/>
<path d="M1728.90,1121.60 L1729.92,1121.45 L1730.94,1121.30 L1731.96,1121.14 L1732.98,1120.99 L1734.00,1120.83 L1735.02,1120.67 L1736.04,1120.51 L1737.06,1120.35 L1738.08,1120.19 L1739.10,1120.03 L1740.12,1119.88 L1741.14,1119.72 L1742.16,1119.57 L1743.18,1119.42 L1744.20,1119.27 L1745.22,1119.13 L1746.24,1118.99 L1747.26,1118.86 L1748.28,1118.72 L1749.30,1118.59 L1750.32,1118.46 L1751.34,1118.32 L1752.36,1118.19 L1753.38,1118.06 L1754.40,1117.94 L1755.42,1117.81 L1756.44,1117.69 L1757.46,1117.57 L1758.48,1117.46 L1759.50,1117.35 L1760.52,1117.24 L1761.54,1117.14 L1762.56,1117.05 L1763.58,1116.96 L1764.60,1116.87 L1765.62,1116.77 L1766.64,1116.67 L1767.66,1116.58 L1768.68,1116.48 L1769.70,1116.39 L1770.72,1116.30 L1771.74,1116.22 L1772.76,1116.15 L1773.78,1116.08 L1774.80,1116.02 L1775.82,1115.97 L1776.84,1115.93 L1777.86,1115.91 L1778.88,1115.90 L1779.90,1115.90 L1780.92,1115.90 L1781.94,1115.91 L1782.96,1115.91 L1783.98,1115.92 L1785.00,1115.93 L1786.02,1115.94 L1787.04,1115.95 L1788.06,1115.97 L1789.08,1115.98 L1790.10,1116.00 L1791.12,1116.02 L1792.14,1116.04 L1793.16,1116.06 L1794.18,1116.08 L1795.20,1116.10" stroke-dasharray="34 11.3 9.8 1000"/>
<path d="M1795.20,1116.10 L1796.22,1116.13 L1797.24,1116.18 L1798.26,1116.25 L1799.28,1116.33 L1800.30,1116.43 L1801.32,1116.53 L1802.34,1116.65 L1803.36,1116.78 L1804.38,1116.91 L1805.40,1117.06 L1806.42,1117.20 L1807.44,1117.35 L1808.46,1117.51 L1809.48,1117.66 L1810.50,1117.81 L1811.52,1117.96 L1812.54,1118.11 L1813.56,1118.27 L1814.58,1118.43 L1815.60,1118.61 L1816.62,1118.79 L1817.64,1118.97 L1818.66,1119.17 L1819.68,1119.36 L1820.70,1119.57 L1821.72,1119.78 L1822.74,1119.99 L1823.76,1120.20 L1824.78,1120.42 L1825.80,1120.64 L1826.82,1120.87 L1827.84,1121.09 L1828.86,1121.31 L1829.88,1121.55 L1830.90,1121.79 L1831.92,1122.04 L1832.94,1122.31 L1833.96,1122.58 L1834.98,1122.85 L1836.00,1123.13 L1837.02,1123.41 L1838.04,1123.68 L1839.06,1123.95 L1840.08,1124.22 L1841.10,1124.48 L1842.12,1124.73 L1843.14,1124.97 L1844.16,1125.19 L1845.18,1125.41 L1846.20,1125.64 L1847.22,1125.88 L1848.24,1126.12 L1849.26,1126.35 L1850.28,1126.59 L1851.30,1126.81 L1852.32,1127.03 L1853.34,1127.24 L1854.36,1127.43 L1855.38,1127.61 L1856.40,1127.76 L1857.42,1127.89 L1858.44,1128.00 L1859.46,1128.07 L1860.00,1128.10" stroke-dasharray="34 11.3 9.8 1000"/>
<path d="M1860.00,1128.10 L1861.02,1128.14 L1862.04,1128.18 L1863.06,1128.22 L1864.08,1128.26 L1865.10,1128.30 L1866.12,1128.33 L1867.14,1128.36 L1868.16,1128.39 L1869.18,1128.41 L1870.20,1128.43 L1871.22,1128.45 L1872.24,1128.47 L1873.26,1128.48 L1874.28,1128.49 L1875.30,1128.50 L1876.32,1128.50 L1877.34,1128.50 L1878.36,1128.48 L1879.38,1128.46 L1880.40,1128.43 L1881.42,1128.39 L1882.44,1128.34 L1883.46,1128.29 L1884.48,1128.23 L1885.50,1128.16 L1886.52,1128.09 L1887.54,1128.01 L1888.56,1127.93 L1889.58,1127.85 L1890.60,1127.76 L1891.62,1127.67 L1892.64,1127.58 L1893.66,1127.49 L1894.68,1127.39 L1895.70,1127.29 L1896.72,1127.16 L1897.74,1127.02 L1898.76,1126.87 L1899.78,1126.70 L1900.80,1126.52 L1901.82,1126.33 L1902.84,1126.13 L1903.86,1125.94 L1904.88,1125.74 L1905.90,1125.54 L1906.92,1125.35 L1907.94,1125.16 L1908.96,1124.97 L1909.98,1124.80 L1911.00,1124.63 L1912.02,1124.46 L1913.04,1124.28 L1914.06,1124.10 L1915.08,1123.92 L1916.10,1123.74 L1917.12,1123.56 L1918.14,1123.39 L1919.16,1123.22 L1920.18,1123.05 L1921.20,1122.89 L1922.22,1122.75 L1923.24,1122.61 L1924.26,1122.48 L1925.28,1122.37 L1926.00,1122.30" stroke-dasharray="34 11.3 9.8 1000"/>
<path d="M1926.00,1122.30 L1927.02,1122.21 L1928.04,1122.11 L1929.06,1122.02 L1930.08,1121.92 L1931.10,1121.83 L1932.12,1121.74 L1933.14,1121.66 L1934.16,1121.58 L1935.18,1121.50 L1936.20,1121.43 L1937.22,1121.37 L1938.24,1121.32 L1939.26,1121.27 L1940.28,1121.24 L1941.30,1121.22 L1942.32,1121.20 L1943.34,1121.20 L1944.36,1121.21 L1945.38,1121.23 L1946.40,1121.26 L1947.42,1121.30 L1948.44,1121.34 L1949.46,1121.39 L1950.48,1121.45 L1951.50,1121.52 L1952.52,1121.59 L1953.54,1121.66 L1954.56,1121.74 L1955.58,1121.83 L1956.60,1121.91 L1957.62,1122.00 L1958.64,1122.09 L1959.66,1122.19 L1960.68,1122.28 L1961.70,1122.38 L1962.72,1122.50 L1963.74,1122.64 L1964.76,1122.80 L1965.78,1122.97 L1966.80,1123.15 L1967.82,1123.34 L1968.84,1123.54 L1969.86,1123.74 L1970.88,1123.95 L1971.90,1124.15 L1972.92,1124.35 L1973.94,1124.54 L1974.96,1124.72 L1975.98,1124.90 L1977.00,1125.07 L1978.02,1125.24 L1979.04,1125.42 L1980.06,1125.60 L1981.08,1125.78 L1982.10,1125.97 L1983.12,1126.15 L1984.14,1126.32 L1985.16,1126.49 L1986.18,1126.66 L1987.20,1126.81 L1988.22,1126.96 L1989.24,1127.09 L1990.26,1127.22 L1991.28,1127.32 L1992.10,1127.40" stroke-dasharray="34 11.3 9.8 1000"/>
<path d="M1992.10,1127.40 L1993.12,1127.49 L1994.14,1127.58 L1995.16,1127.66 L1996.18,1127.75 L1997.20,1127.83 L1998.22,1127.91 L1999.24,1127.99 L2000.26,1128.06 L2001.28,1128.13 L2002.30,1128.19 L2003.32,1128.24 L2004.34,1128.29 L2005.36,1128.33 L2006.38,1128.36 L2007.40,1128.39 L2008.42,1128.40 L2009.44,1128.40 L2010.46,1128.38 L2011.48,1128.34 L2012.50,1128.28 L2013.52,1128.20 L2014.54,1128.10 L2015.56,1127.99 L2016.58,1127.87 L2017.60,1127.73 L2018.62,1127.59 L2019.64,1127.44 L2020.66,1127.28 L2021.68,1127.13 L2022.70,1126.97 L2023.72,1126.81 L2024.74,1126.65 L2025.76,1126.49 L2026.78,1126.34 L2027.80,1126.18 L2028.82,1126.00 L2029.84,1125.82 L2030.86,1125.63 L2031.00,1125.60" stroke-dasharray="34 11.3 9.8 1000"/>
</g>
<text class="tk" transform="translate(228.00,1539.3) scale(1,1)" text-anchor="middle">0</text>
<text class="tk" transform="translate(589.70,1539.3) scale(1,1)" text-anchor="middle">20</text>
<text class="tk" transform="translate(949.90,1539.3) scale(1,1)" text-anchor="middle">40</text>
<text class="tk" transform="translate(1310.10,1539.3) scale(1,1)" text-anchor="middle">60</text>
<text class="tk" transform="translate(1670.30,1539.3) scale(1,1)" text-anchor="middle">80</text>
<text class="tk" transform="translate(2030.50,1539.3) scale(1,1)" text-anchor="middle">100</text>
<text class="tk" transform="translate(207.2,1481.00) scale(0.99,1)" text-anchor="end">0.06</text>
<text class="tk" transform="translate(207.2,1243.78) scale(0.99,1)" text-anchor="end">0.08</text>
<text class="tk" transform="translate(207.2,1006.57) scale(0.99,1)" text-anchor="end">0.1</text>
<text class="tk" transform="translate(207.2,769.35) scale(0.99,1)" text-anchor="end">0.12</text>
<text class="tk" transform="translate(207.2,532.13) scale(0.99,1)" text-anchor="end">0.14</text>
<text class="tk" transform="translate(207.2,294.92) scale(0.99,1)" text-anchor="end">0.16</text>
<text class="tk" transform="translate(207.2,57.70) scale(0.99,1)" text-anchor="end">0.18</text>
<text class="lb" transform="translate(1127.6,1623.1) scale(1,1)" text-anchor="middle">Time (s)</text>
<text class="lb" transform="translate(66.9,755) rotate(-90) scale(0.995,1)" text-anchor="middle">Elongation of spring (m)</text>
<rect x="1554" y="89" width="423" height="203.4" fill="#ffffff" stroke="#262626" stroke-width="3.5"/>
<line x1="1570" y1="143.4" x2="1737" y2="143.4" stroke="#0000ff" stroke-width="7"/>
<line x1="1570" y1="238" x2="1737" y2="238" stroke="#ff0000" stroke-width="6.5" stroke-dasharray="34 11 10 11.5"/>
<text class="lg" transform="translate(1749.3,150.9) scale(1,1)">Spring k<tspan class="sb" dx="2" dy="24.9">2</tspan></text>
<text class="lg" transform="translate(1749.3,246.8) scale(1,1)">Spring k<tspan class="sb" dx="2" dy="24.9">3</tspan></text>
</svg></body></html>
